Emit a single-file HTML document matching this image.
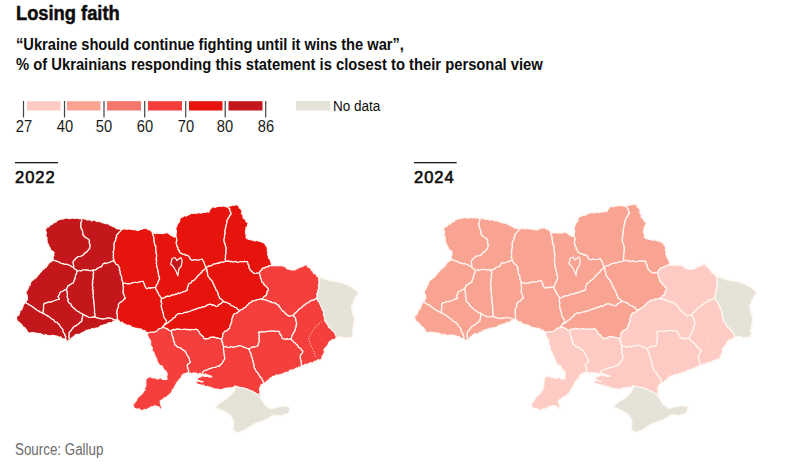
<!DOCTYPE html>
<html><head><meta charset="utf-8">
<style>
html,body{margin:0;padding:0;background:#fff;}
body{width:800px;height:468px;position:relative;overflow:hidden;font-family:"Liberation Sans",sans-serif;color:#0d0d0d;}
.t{position:absolute;white-space:nowrap;transform-origin:0 0;}
#title{left:16px;top:2px;font-size:20px;font-weight:bold;transform:scaleX(0.915);-webkit-text-stroke:0.5px #0d0d0d;}
#sub1{left:16px;top:35px;font-size:16.3px;font-weight:bold;transform:scaleX(0.901);}
#sub2{left:16px;top:55px;font-size:16.3px;font-weight:bold;transform:scaleX(0.907);}
.num{position:absolute;top:117.7px;font-size:15.8px;width:40px;text-align:center;color:#1a1a1a;transform:scaleX(0.93);transform-origin:50% 0;}
#nodata{left:333.3px;top:96.6px;font-size:15.2px;transform:scaleX(0.89);}
.yr{position:absolute;top:168px;font-size:16.5px;letter-spacing:1px;-webkit-text-stroke:0.6px #0d0d0d;}
#src{left:15px;top:441.4px;font-size:16px;color:#6b6b6b;transform:scaleX(0.835);}
svg{position:absolute;left:0;top:0;}
</style></head><body>
<div class="t" id="title">Losing faith</div>
<div class="t" id="sub1">“Ukraine should continue fighting until it wins the war”,</div>
<div class="t" id="sub2">% of Ukrainians responding this statement is closest to their personal view</div>
<svg width="800" height="468" viewBox="0 0 800 468">
<g>
<rect x="27" y="101.2" width="33.5" height="9.3" fill="#fdcbc3"/>
<rect x="67" y="101.2" width="33.5" height="9.3" fill="#f9a493"/>
<rect x="107" y="101.2" width="34" height="9.3" fill="#f5776b"/>
<rect x="148" y="101.2" width="34" height="9.3" fill="#f43f3c"/>
<rect x="189" y="101.2" width="33.5" height="9.3" fill="#e7130d"/>
<rect x="228.5" y="101.2" width="34" height="9.3" fill="#c4171c"/>
<g fill="#444">
<rect x="22.9" y="101" width="1.2" height="16.5"/>
<rect x="63.9" y="101" width="1.2" height="16.5"/>
<rect x="103.4" y="101" width="1.2" height="16.5"/>
<rect x="144.1" y="101" width="1.2" height="16.5"/>
<rect x="185.1" y="101" width="1.2" height="16.5"/>
<rect x="224.6" y="101" width="1.2" height="16.5"/>
<rect x="265.1" y="101" width="1.2" height="16.5"/>
</g>
<rect x="296" y="101" width="34.3" height="9.6" fill="#e5e3d8"/>
<rect x="15" y="162" width="43" height="1.3" fill="#1a1a1a"/>
<rect x="414" y="162" width="42.7" height="1.3" fill="#1a1a1a"/>
</g>
<g transform="translate(0)" stroke="#fff6f2" stroke-width="1.25" stroke-linejoin="round">
<path d="M53.0,259.5 53.0,258.1 53.0,256.7 53.9,255.5 53.3,254.0 54.2,252.8 53.2,251.7 52.1,250.9 50.7,250.2 50.2,248.7 49.7,247.3 48.5,246.2 48.6,244.7 47.5,243.5 47.0,242.2 47.1,240.6 46.8,239.3 47.1,237.8 45.9,236.6 45.8,235.2 46.2,233.8 46.4,232.4 45.7,231.1 45.2,229.8 45.1,228.4 46.6,228.4 47.1,226.5 48.9,226.9 49.7,225.5 50.8,224.6 52.2,224.4 53.0,223.1 54.4,222.5 56.0,222.2 56.7,220.6 58.2,220.2 59.3,219.3 60.7,219.4 62.1,218.9 63.5,219.0 64.8,218.1 66.2,218.0 67.7,218.1 69.1,218.7 70.5,218.3 71.9,218.2 73.3,218.0 74.7,218.4 76.0,218.2 77.4,218.0 78.8,218.7 80.2,218.6 81.6,218.3 81.8,219.7 81.7,221.1 81.1,222.3 80.9,223.7 80.9,225.1 80.6,226.4 81.3,227.6 81.4,229.0 82.4,230.1 82.6,231.5 82.9,232.9 82.8,234.3 83.7,235.5 84.6,236.5 85.5,237.5 86.7,238.0 87.9,238.7 88.9,239.6 89.7,240.6 89.2,241.9 89.5,243.3 89.9,244.6 90.2,246.0 89.7,247.3 89.7,248.7 88.6,249.6 87.8,250.8 86.9,251.9 85.6,252.6 84.4,253.5 83.7,254.8 82.3,255.6 80.8,256.3 79.2,256.5 77.6,256.9 76.6,258.0 75.4,258.8 74.7,260.1 73.5,260.9 73.2,262.2 73.3,263.5 73.5,264.9 73.8,266.2 73.5,267.5 72.2,267.0 71.0,266.2 69.8,265.4 68.4,265.0 67.1,264.4 65.7,264.3 64.2,264.4 63.0,263.5 61.6,263.6 60.3,263.0 59.2,262.2 58.0,261.6 56.5,261.5 55.5,260.5 54.0,260.5Z" fill="#c4171c"/>
<path d="M81.6,218.3 83.1,218.2 84.4,218.9 85.8,219.1 87.1,219.9 88.5,219.9 90.1,219.5 91.3,220.8 92.8,220.3 94.2,220.0 95.4,220.7 96.6,221.5 98.1,220.9 99.3,221.7 100.7,221.3 101.8,222.5 103.0,222.9 104.4,222.9 105.6,223.7 107.0,223.4 108.5,223.8 109.6,225.0 111.0,225.5 112.3,226.2 113.8,226.7 115.1,227.4 116.5,228.4 117.9,229.0 119.7,228.9 121.2,229.4 120.6,231.0 119.4,232.1 118.3,233.3 117.2,234.5 116.4,235.6 116.8,237.2 115.6,238.2 115.9,239.7 115.4,240.9 114.6,242.1 114.2,243.3 114.1,244.7 114.1,246.2 114.3,247.7 113.8,249.1 113.8,250.6 113.1,252.0 113.7,253.6 113.3,255.0 113.6,256.5 113.2,258.0 114.1,259.5 113.8,261.0 112.4,261.1 111.2,261.7 109.9,262.2 108.7,262.8 107.2,263.0 105.9,263.6 104.3,263.2 103.0,264.0 102.4,265.2 101.7,266.4 100.6,267.2 99.1,267.5 97.7,268.2 96.5,269.4 95.1,270.1 93.5,270.2 92.1,270.4 90.7,270.6 89.2,270.6 87.8,270.1 86.4,270.2 85.0,269.9 83.7,270.0 82.3,270.2 81.1,271.1 79.7,270.5 78.3,270.8 77.0,271.0 76.1,269.6 74.3,269.0 73.5,267.5 73.8,266.2 73.5,264.9 73.3,263.5 73.2,262.2 73.5,260.9 74.7,260.1 75.4,258.8 76.6,258.0 77.6,256.9 79.2,256.5 80.8,256.3 82.3,255.6 83.7,254.8 84.4,253.5 85.6,252.6 86.9,251.9 87.8,250.8 88.6,249.6 89.7,248.7 89.7,247.3 90.2,246.0 89.9,244.6 89.5,243.3 89.2,241.9 89.7,240.6 88.9,239.6 87.9,238.7 86.7,238.0 85.5,237.5 84.6,236.5 83.7,235.5 82.8,234.3 82.9,232.9 82.6,231.5 82.4,230.1 81.4,229.0 81.3,227.6 80.6,226.4 80.9,225.1 80.9,223.7 81.1,222.3 81.7,221.1 81.8,219.7Z" fill="#c4171c"/>
<path d="M121.2,229.4 122.6,229.5 123.8,228.4 125.3,229.2 126.6,229.0 128.0,229.3 129.3,228.4 130.7,229.4 132.5,229.5 134.2,229.5 135.9,230.0 137.5,230.5 138.9,230.4 140.0,229.1 141.5,229.4 142.8,228.6 144.1,228.2 145.6,228.4 147.1,228.3 148.0,229.8 149.6,229.5 150.7,230.5 151.9,231.5 152.5,233.0 152.6,234.4 153.3,235.6 153.7,236.9 154.2,238.2 153.8,239.7 154.4,241.0 154.2,242.4 154.8,243.7 154.7,245.0 155.9,246.2 155.9,247.5 155.9,248.9 155.7,250.3 156.4,251.5 156.0,252.8 156.5,254.1 156.7,255.4 156.5,256.7 156.5,258.1 156.0,259.4 156.8,260.7 156.5,262.0 156.4,263.4 156.7,264.8 156.8,266.1 157.1,267.5 157.5,268.8 158.0,270.1 158.0,271.5 158.4,272.8 158.6,274.1 158.5,275.5 159.4,276.7 159.5,278.0 159.5,279.4 158.5,280.7 158.2,282.3 157.6,283.8 156.5,285.0 156.4,286.4 155.4,287.5 154.1,287.5 152.8,287.9 151.5,287.7 150.2,288.4 148.9,287.8 147.6,288.5 146.3,288.5 145.4,287.2 144.8,285.8 144.3,284.3 143.7,282.9 143.2,281.4 141.8,281.5 140.5,281.6 139.2,282.0 137.9,282.5 136.5,282.5 135.1,282.3 133.7,282.5 132.4,282.9 131.1,283.4 129.7,283.9 128.4,283.8 127.0,283.9 125.6,283.2 124.3,283.5 122.9,283.4 122.8,282.0 122.1,280.7 121.5,279.5 121.8,277.9 121.4,276.6 120.9,275.3 120.2,274.0 120.0,272.7 120.1,271.2 119.2,270.0 119.7,268.4 118.9,267.2 118.4,265.9 117.6,264.8 116.1,264.3 115.3,263.3 114.7,262.0 113.8,261.0 114.1,259.5 113.2,258.0 113.6,256.5 113.3,255.0 113.7,253.6 113.1,252.0 113.8,250.6 113.8,249.1 114.3,247.7 114.1,246.2 114.1,244.7 114.2,243.3 114.6,242.1 115.4,240.9 115.9,239.7 115.6,238.2 116.8,237.2 116.4,235.6 117.2,234.5 118.3,233.3 119.4,232.1 120.6,231.0Z" fill="#e7130d"/>
<path d="M152.5,233.0 153.9,233.0 155.3,233.8 156.8,232.7 158.1,233.5 159.4,233.3 160.8,233.2 162.2,233.6 163.6,233.3 164.9,233.2 166.2,232.5 167.6,232.8 168.7,233.6 170.0,234.2 170.8,235.5 172.3,235.6 173.4,236.9 175.3,236.5 176.4,237.6 176.8,239.1 177.0,240.5 176.3,242.1 176.3,243.6 176.9,245.0 177.0,246.5 178.1,247.6 178.0,249.3 179.2,250.3 179.4,251.9 180.5,253.0 181.8,253.6 183.1,254.3 184.6,254.2 185.7,255.3 187.3,255.2 188.5,256.0 189.5,257.2 190.1,258.7 191.3,259.8 192.7,260.2 194.2,259.6 195.6,259.6 197.1,259.9 198.5,260.0 200.3,259.5 202.0,259.0 202.7,260.2 203.6,261.3 204.1,262.6 204.5,264.0 205.2,265.8 206.3,267.3 205.7,268.6 204.7,269.4 203.5,270.2 202.3,270.9 202.0,272.4 200.8,273.1 199.8,274.2 198.6,275.2 197.5,276.2 196.7,277.6 195.6,278.6 194.7,279.8 193.5,280.7 192.0,281.1 191.3,282.7 189.9,283.3 188.6,284.0 188.4,285.6 187.6,287.0 187.4,288.6 187.5,290.2 186.2,290.7 185.0,291.6 183.5,291.6 182.3,292.5 180.8,292.6 179.7,293.6 178.1,293.2 176.9,294.2 175.5,294.2 174.3,295.0 172.9,294.8 171.6,295.2 170.4,296.1 169.1,296.3 167.7,296.2 166.4,296.7 165.2,297.2 164.0,297.9 162.7,298.3 161.5,299.0 161.0,297.7 160.2,296.7 159.5,295.6 158.5,294.4 158.2,292.8 157.1,291.7 156.7,290.2 155.7,289.1 155.4,287.5 156.4,286.4 156.5,285.0 157.6,283.8 158.2,282.3 158.5,280.7 159.5,279.4 159.5,278.0 159.4,276.7 158.5,275.5 158.6,274.1 158.4,272.8 158.0,271.5 158.0,270.1 157.5,268.8 157.1,267.5 156.8,266.1 156.7,264.8 156.4,263.4 156.5,262.0 156.8,260.7 156.0,259.4 156.5,258.1 156.5,256.7 156.7,255.4 156.5,254.1 156.0,252.8 156.4,251.5 155.7,250.3 155.9,248.9 155.9,247.5 155.9,246.2 154.7,245.0 154.8,243.7 154.2,242.4 154.4,241.0 153.8,239.7 154.2,238.2 153.7,236.9 153.3,235.6 152.6,234.4Z" fill="#e7130d"/>
<path d="M176.4,237.6 175.9,236.3 176.0,234.9 176.0,233.6 176.4,232.3 176.5,231.0 176.0,229.7 175.7,228.3 176.4,227.0 176.9,225.6 177.4,224.2 178.2,223.0 179.4,221.8 179.6,220.3 179.9,218.9 180.5,217.5 181.8,217.2 183.1,216.7 184.0,215.4 185.8,216.1 187.0,215.4 188.3,215.0 189.5,214.4 190.6,213.5 192.1,213.3 193.5,213.3 195.0,212.8 196.4,213.5 197.9,212.6 199.3,212.6 200.8,213.2 202.1,212.6 203.5,212.4 204.9,212.5 206.2,211.9 207.5,211.6 209.0,212.2 209.3,210.7 210.0,209.4 211.1,208.4 212.0,207.3 213.3,206.4 214.9,207.5 216.2,207.0 217.5,206.1 219.0,206.5 220.3,206.1 221.6,206.2 222.9,206.1 224.2,205.7 225.6,206.7 226.9,206.9 228.2,206.1 228.4,207.7 229.8,208.8 229.9,210.4 230.4,211.9 231.2,213.2 230.9,214.6 229.6,215.4 229.5,216.9 228.4,217.9 227.8,219.1 227.2,220.3 226.8,221.5 226.9,222.9 226.5,224.1 226.1,225.4 226.0,226.7 225.5,227.9 225.4,229.2 225.1,230.5 225.0,231.9 225.3,233.4 224.6,234.8 224.5,236.3 224.6,237.7 224.0,239.1 224.1,240.6 224.2,242.0 224.8,243.3 225.4,244.6 225.5,246.1 226.1,247.3 226.1,248.8 226.3,250.3 225.9,251.7 226.1,253.2 225.6,254.6 225.4,256.0 225.7,257.5 225.1,258.9 226.0,261.0 224.7,261.6 223.4,262.2 222.0,262.5 220.4,262.1 219.2,263.3 217.7,263.1 216.4,263.6 215.0,264.0 213.6,264.1 212.5,265.0 211.4,265.7 210.1,266.1 208.6,266.0 207.6,267.0 206.3,267.3 205.2,265.8 204.5,264.0 204.1,262.6 203.6,261.3 202.7,260.2 202.0,259.0 200.3,259.5 198.5,260.0 197.1,259.9 195.6,259.6 194.2,259.6 192.7,260.2 191.3,259.8 190.1,258.7 189.5,257.2 188.5,256.0 187.3,255.2 185.7,255.3 184.6,254.2 183.1,254.3 181.8,253.6 180.5,253.0 179.4,251.9 179.2,250.3 178.0,249.3 178.1,247.6 177.0,246.5 176.9,245.0 176.3,243.6 176.3,242.1 177.0,240.5 176.8,239.1Z" fill="#e7130d"/>
<path d="M228.2,206.1 229.6,205.9 231.0,205.8 232.3,205.0 233.8,205.5 235.0,204.8 236.4,205.0 237.8,205.1 239.0,206.2 239.2,207.9 240.9,208.6 241.4,210.2 242.4,211.4 241.4,213.1 242.4,214.3 243.2,215.5 243.0,217.0 243.4,218.3 244.9,218.7 245.5,220.2 246.2,221.7 247.4,222.5 248.8,223.0 247.8,224.1 247.6,225.7 246.7,226.9 245.8,228.0 246.3,229.3 245.4,230.7 245.8,232.1 245.5,233.4 246.2,234.8 246.4,236.1 246.0,237.5 247.1,238.4 248.3,239.2 249.7,239.5 251.0,239.9 252.5,240.0 253.8,240.7 255.2,240.8 256.7,240.2 258.0,240.8 259.6,241.4 261.3,241.7 262.8,242.5 264.3,243.1 265.2,244.2 265.9,245.6 266.8,246.7 267.5,248.0 267.4,249.4 267.2,250.8 268.1,252.1 267.6,253.6 267.7,254.9 268.6,256.2 268.4,257.7 269.6,258.8 270.2,260.0 270.6,261.3 271.1,262.6 271.5,264.0 271.5,265.4 270.2,265.9 268.8,265.9 267.6,267.0 266.1,266.8 265.1,267.9 263.7,268.1 262.3,268.4 261.9,269.9 260.5,270.8 259.8,272.1 259.3,273.5 257.6,273.0 255.9,273.3 254.2,273.5 252.9,272.5 251.7,271.3 250.2,270.5 250.0,269.1 248.9,268.1 248.9,266.6 248.8,265.2 247.7,264.2 247.8,262.7 247.1,261.5 245.8,262.0 244.5,261.3 243.2,262.0 241.9,261.7 240.6,261.5 239.3,262.0 237.9,262.3 236.6,262.1 235.3,261.4 233.9,262.0 232.6,262.0 231.3,261.4 230.0,261.8 228.7,260.9 227.3,261.4 226.0,261.0 225.1,258.9 225.7,257.5 225.4,256.0 225.6,254.6 226.1,253.2 225.9,251.7 226.3,250.3 226.1,248.8 226.1,247.3 225.5,246.1 225.4,244.6 224.8,243.3 224.2,242.0 224.1,240.6 224.0,239.1 224.6,237.7 224.5,236.3 224.6,234.8 225.3,233.4 225.0,231.9 225.1,230.5 225.4,229.2 225.5,227.9 226.0,226.7 226.1,225.4 226.5,224.1 226.9,222.9 226.8,221.5 227.2,220.3 227.8,219.1 228.4,217.9 229.5,216.9 229.6,215.4 230.9,214.6 231.2,213.2 230.4,211.9 229.9,210.4 229.8,208.8 228.4,207.7Z" fill="#e7130d"/>
<path d="M271.5,265.4 273.2,265.6 274.8,266.0 276.5,265.4 278.0,265.9 279.6,265.4 281.1,265.6 282.6,265.4 283.6,266.5 285.4,266.3 286.1,267.8 287.2,268.8 288.7,269.0 290.2,269.7 291.7,269.9 293.3,269.7 294.8,270.0 295.8,268.9 297.5,268.9 298.3,267.6 299.9,267.5 300.9,266.4 302.6,266.6 303.9,265.4 305.4,264.9 307.0,264.6 307.4,266.2 308.5,267.2 310.1,267.8 311.0,269.0 311.5,270.5 312.9,271.1 313.2,272.8 314.4,273.7 316.1,273.9 316.5,275.6 317.4,276.7 318.9,277.1 318.7,278.4 319.0,279.8 318.9,281.1 319.3,282.4 319.4,283.7 318.4,285.1 318.8,286.4 318.9,287.7 318.6,289.0 317.9,290.3 318.1,291.8 317.3,293.0 317.1,294.4 317.4,295.9 317.0,297.2 316.5,298.5 315.1,299.0 314.1,300.2 312.4,300.1 311.1,300.6 309.8,301.4 308.9,302.7 307.4,303.0 306.0,303.5 305.3,304.8 303.9,305.3 302.9,306.2 301.9,307.2 300.9,308.2 299.7,308.8 298.6,309.7 297.9,311.0 296.7,311.8 295.8,312.9 294.5,313.6 293.9,314.9 292.5,315.5 290.6,316.0 288.7,316.1 287.6,315.4 286.6,314.5 285.4,313.9 284.8,312.6 283.7,311.8 282.6,311.1 281.5,310.1 281.1,308.6 280.0,307.6 279.0,306.5 278.6,305.0 277.2,304.7 276.1,303.7 274.9,303.2 273.7,302.5 272.1,302.8 271.1,301.7 269.5,301.8 268.4,300.9 266.9,300.6 265.6,299.9 264.1,299.7 262.6,299.6 261.3,298.9 262.5,298.3 263.4,297.3 264.2,296.2 265.5,295.7 266.4,294.8 266.8,293.3 266.9,291.6 268.1,290.3 268.4,288.7 267.2,287.9 266.4,286.6 265.3,285.7 264.0,285.0 263.6,283.3 262.3,282.6 261.5,281.4 261.4,280.0 261.0,278.7 260.2,277.5 260.3,276.1 259.6,274.8 259.3,273.5 259.8,272.1 260.5,270.8 261.9,269.9 262.3,268.4 263.7,268.1 265.1,267.9 266.1,266.8 267.6,267.0 268.8,265.9 270.2,265.9Z" fill="#f43f3c"/>
<path d="M318.9,277.1 320.4,277.3 321.7,277.7 322.9,278.7 324.4,278.7 325.7,279.4 327.0,280.0 328.4,279.7 329.5,281.0 330.9,280.4 332.2,280.7 333.5,281.1 334.7,281.8 336.1,281.3 337.3,282.2 338.7,281.8 340.0,282.0 341.2,282.6 342.5,283.2 344.0,283.0 345.0,284.2 346.4,284.4 347.8,284.7 348.6,286.3 350.0,286.5 351.6,286.8 352.8,288.0 354.0,289.1 355.5,289.6 356.4,290.9 357.6,292.0 358.3,293.5 357.5,294.7 356.6,296.0 355.5,297.0 355.6,298.8 354.2,299.7 353.5,301.0 353.4,302.6 352.9,304.1 351.7,305.4 351.6,307.0 351.9,308.3 352.2,309.6 352.6,310.8 352.5,312.2 352.6,313.5 353.6,314.6 353.7,316.0 354.2,317.2 354.5,318.5 354.3,319.9 353.9,321.2 354.1,322.6 353.9,323.9 353.8,325.3 353.0,326.6 353.5,328.0 353.1,329.4 352.7,330.7 352.5,332.1 353.3,333.6 352.8,334.9 352.1,336.3 352.6,337.7 351.3,337.1 349.9,338.2 348.6,338.1 347.3,337.6 346.0,338.1 344.7,337.8 343.4,338.0 342.1,337.1 340.8,336.9 339.5,336.7 338.1,337.8 336.8,337.2 335.9,335.9 335.3,334.4 334.8,332.9 333.6,331.8 332.6,330.7 331.5,329.8 330.9,328.4 329.4,327.9 328.5,326.7 327.9,325.3 327.2,324.0 326.3,322.8 325.4,321.6 324.6,320.3 324.5,318.8 324.6,317.2 323.7,315.8 323.4,314.3 323.7,312.7 323.2,311.4 322.8,310.1 321.8,309.0 322.0,307.5 320.8,306.4 320.8,305.0 319.6,303.9 319.4,302.2 318.1,301.2 317.2,299.9 316.5,298.5 317.0,297.2 317.4,295.9 317.1,294.4 317.3,293.0 318.1,291.8 317.9,290.3 318.6,289.0 318.9,287.7 318.8,286.4 318.4,285.1 319.4,283.7 319.3,282.4 318.9,281.1 319.0,279.8 318.7,278.4Z" fill="#e5e3d8"/>
<path d="M316.5,298.5 317.2,299.9 318.1,301.2 319.4,302.2 319.6,303.9 320.8,305.0 320.8,306.4 322.0,307.5 321.8,309.0 322.8,310.1 323.2,311.4 323.7,312.7 323.4,314.3 323.7,315.8 324.6,317.2 324.5,318.8 324.6,320.3 325.4,321.6 326.3,322.8 327.2,324.0 327.9,325.3 328.5,326.7 329.4,327.9 330.9,328.4 331.5,329.8 332.6,330.7 333.6,331.8 334.8,332.9 335.3,334.4 335.9,335.9 336.8,337.2 335.7,338.0 335.0,339.3 333.6,339.5 331.9,339.9 330.8,341.1 329.4,341.8 328.5,343.3 328.0,345.0 326.8,346.1 326.1,347.6 324.6,348.5 323.9,349.7 324.4,351.1 324.4,352.5 323.7,353.6 323.3,354.9 322.3,356.0 322.0,357.3 322.0,358.7 320.9,359.6 319.6,360.2 317.9,359.7 316.8,360.7 315.6,361.3 314.2,361.4 313.3,362.7 312.0,363.2 310.4,362.7 309.3,363.5 308.0,363.8 306.9,364.9 305.2,364.2 304.0,365.2 302.6,365.5 301.5,366.4 301.2,365.0 301.2,363.5 301.3,362.0 300.9,360.6 300.4,359.1 300.2,357.7 300.3,356.2 300.5,354.7 301.7,353.7 302.5,352.5 302.8,351.0 301.5,350.3 301.0,348.7 299.6,348.1 298.4,347.3 297.7,345.9 296.9,344.7 295.8,343.9 295.0,342.9 293.7,342.2 292.9,341.1 292.0,340.1 290.8,339.4 291.2,338.2 291.6,336.9 291.8,335.6 292.7,334.4 293.3,333.0 294.0,331.6 295.1,330.5 295.1,329.2 295.2,327.9 296.2,326.7 295.8,325.3 296.6,324.1 296.4,322.8 296.1,321.5 295.6,320.3 295.7,318.9 295.1,317.7 293.9,316.4 292.5,315.5 293.9,314.9 294.5,313.6 295.8,312.9 296.7,311.8 297.9,311.0 298.6,309.7 299.7,308.8 300.9,308.2 301.9,307.2 302.9,306.2 303.9,305.3 305.3,304.8 306.0,303.5 307.4,303.0 308.9,302.7 309.8,301.4 311.1,300.6 312.4,300.1 314.1,300.2 315.1,299.0Z" fill="#f43f3c"/>
<path d="M290.8,339.4 292.0,340.1 292.9,341.1 293.7,342.2 295.0,342.9 295.8,343.9 296.9,344.7 297.7,345.9 298.4,347.3 299.6,348.1 301.0,348.7 301.5,350.3 302.8,351.0 302.5,352.5 301.7,353.7 300.5,354.7 300.3,356.2 300.2,357.7 300.4,359.1 300.9,360.6 301.3,362.0 301.2,363.5 301.2,365.0 301.5,366.4 300.5,367.5 298.8,366.9 298.0,368.5 296.3,367.8 295.3,368.9 294.1,369.5 292.8,369.8 291.4,370.2 289.9,370.2 288.9,371.7 287.6,372.4 286.0,372.3 284.7,372.9 283.4,373.6 282.1,374.1 280.7,374.4 279.4,374.9 278.0,375.0 276.5,374.9 275.4,375.8 274.2,376.4 272.7,376.4 271.8,377.6 270.5,377.9 269.5,378.8 268.8,380.1 267.6,380.8 266.4,381.5 265.6,382.9 264.0,383.0 263.0,381.6 262.3,380.0 261.7,378.6 260.8,377.5 259.7,376.5 259.0,375.2 258.3,373.9 257.5,372.6 256.3,371.7 255.6,370.4 255.1,369.0 254.2,367.8 253.8,366.4 254.0,364.8 253.4,363.4 252.9,362.0 252.8,360.5 252.3,359.1 252.2,357.6 251.3,356.4 251.1,355.0 250.9,353.5 250.0,352.4 249.5,351.0 249.0,349.6 248.1,348.5 249.5,348.5 250.7,348.1 251.8,347.0 253.1,346.8 254.5,346.8 255.8,346.5 257.1,346.1 258.3,345.5 258.1,344.1 258.7,342.8 259.2,341.4 258.9,340.0 258.9,338.6 259.3,337.3 259.0,335.6 259.0,333.9 258.3,332.3 259.7,331.9 261.2,331.8 262.6,331.5 264.1,332.0 265.5,331.7 267.0,331.5 268.4,331.2 269.9,331.1 271.3,330.9 272.8,330.9 274.2,331.2 275.7,331.2 277.1,331.5 278.6,331.2 279.6,332.2 279.8,333.7 280.6,334.8 281.6,335.8 281.7,337.3 282.6,338.4 283.9,338.9 285.3,339.2 286.7,338.5 288.0,339.5 289.5,338.8Z" fill="#f43f3c"/>
<path d="M248.1,348.5 249.0,349.6 249.5,351.0 250.0,352.4 250.9,353.5 251.1,355.0 251.3,356.4 252.2,357.6 252.3,359.1 252.8,360.5 252.9,362.0 253.4,363.4 254.0,364.8 253.8,366.4 254.2,367.8 255.1,369.0 255.6,370.4 256.3,371.7 257.5,372.6 258.3,373.9 259.0,375.2 259.7,376.5 260.8,377.5 261.7,378.6 262.3,380.0 263.0,381.6 264.0,383.0 262.6,384.3 260.8,385.0 261.2,386.5 259.8,387.5 259.8,388.8 259.5,390.1 260.1,391.4 259.9,392.8 259.4,394.2 260.8,395.4 259.9,396.9 260.5,398.2 259.5,397.2 258.7,396.1 258.3,394.7 257.0,394.0 255.7,393.5 254.6,392.8 253.5,391.9 252.5,391.0 251.0,391.0 249.7,390.7 248.7,389.5 247.4,389.2 246.1,388.8 244.7,388.6 243.5,388.0 241.9,387.9 240.3,387.9 238.9,387.5 237.3,387.2 236.0,386.2 234.6,386.2 233.4,387.3 232.1,387.7 230.8,388.2 229.2,387.5 228.0,388.3 226.2,388.1 224.6,388.6 222.9,389.2 221.6,389.5 220.3,389.6 219.0,389.5 217.7,389.2 216.3,389.0 214.8,389.1 213.4,388.4 212.0,388.4 210.8,387.1 209.2,387.5 208.0,386.4 206.4,386.6 204.8,386.6 203.7,385.1 202.0,385.6 200.6,384.9 199.2,384.5 197.7,384.3 196.7,383.2 195.5,382.4 196.4,381.0 197.7,381.1 199.0,381.3 200.4,381.0 201.7,381.6 203.0,381.7 201.4,382.1 200.2,381.3 198.9,380.6 197.5,379.7 197.2,378.1 198.8,377.3 200.6,376.8 202.0,376.0 203.4,375.8 204.9,376.4 206.3,376.2 207.7,376.2 209.0,376.9 210.4,376.9 211.8,377.0 210.7,375.9 209.2,375.5 207.9,375.0 206.5,374.7 205.2,374.2 203.7,374.6 202.4,374.2 202.4,372.6 203.2,371.2 204.6,370.5 206.1,370.2 207.5,369.5 208.9,368.8 210.4,368.4 211.8,367.8 213.3,367.5 214.9,367.4 216.3,366.7 217.8,366.2 219.4,366.1 220.1,364.8 221.2,364.0 222.3,363.1 222.9,361.8 223.6,360.4 224.6,359.2 224.7,357.8 224.4,356.5 224.1,355.1 224.0,353.8 223.7,352.5 223.7,351.1 223.5,349.7 223.3,348.4 223.6,347.0 225.0,346.5 226.5,346.7 227.9,347.3 229.4,347.5 230.8,346.5 232.3,347.0 233.7,347.0 235.3,346.6 236.9,346.5 238.4,345.6 240.0,345.5 241.4,346.0 242.8,346.4 243.9,347.3 245.5,347.3 246.6,348.4Z" fill="#f43f3c"/>
<path d="M223.6,347.0 223.3,348.4 223.5,349.7 223.7,351.1 223.7,352.5 224.0,353.8 224.1,355.1 224.4,356.5 224.7,357.8 224.6,359.2 223.6,360.4 222.9,361.8 222.3,363.1 221.2,364.0 220.1,364.8 219.4,366.1 217.8,366.2 216.3,366.7 214.9,367.4 213.3,367.5 211.8,367.8 210.4,368.4 208.9,368.8 207.5,369.5 206.1,370.2 204.6,370.5 203.2,371.2 202.4,372.6 202.4,374.2 201.1,374.4 199.9,373.3 198.5,374.4 197.2,373.8 196.1,373.1 194.7,373.0 193.2,372.9 191.7,373.9 190.2,372.8 188.7,373.4 188.1,372.2 188.7,370.8 188.2,369.5 187.5,368.2 187.5,366.7 187.0,365.3 188.0,364.0 189.5,363.2 190.4,361.8 189.4,360.6 189.3,359.0 188.7,357.6 187.9,356.3 186.9,355.2 186.4,353.8 185.7,352.4 185.0,351.1 183.8,350.6 182.7,349.8 181.6,349.1 180.7,348.0 179.3,347.7 178.0,347.4 176.9,346.6 176.1,345.4 174.8,345.0 174.4,343.7 174.6,342.2 173.3,341.1 173.5,339.6 173.2,338.2 172.8,336.9 172.0,335.5 171.7,333.9 171.6,332.2 170.8,330.8 172.2,329.9 173.7,329.3 175.5,329.6 176.9,328.7 178.3,329.2 179.8,329.1 181.2,329.5 182.7,329.4 184.1,329.2 185.6,329.2 187.0,329.7 188.5,329.3 189.9,330.0 191.4,329.4 192.8,329.5 194.3,329.6 195.7,329.2 197.2,329.7 198.4,330.8 199.4,332.1 200.0,333.7 201.2,334.8 202.3,335.7 203.4,336.7 203.9,338.2 205.3,338.9 206.7,338.6 208.1,338.6 209.4,338.0 210.6,337.1 212.0,337.1 213.4,336.9 214.8,337.2 216.0,337.8 217.5,337.8 218.8,338.4 220.1,338.6 221.5,338.9 222.1,340.2 221.8,341.7 222.9,342.8 222.6,344.4 223.6,345.6Z" fill="#f43f3c"/>
<path d="M170.8,330.8 171.6,332.2 171.7,333.9 172.0,335.5 172.8,336.9 173.2,338.2 173.5,339.6 173.3,341.1 174.6,342.2 174.4,343.7 174.8,345.0 176.1,345.4 176.9,346.6 178.0,347.4 179.3,347.7 180.7,348.0 181.6,349.1 182.7,349.8 183.8,350.6 185.0,351.1 185.7,352.4 186.4,353.8 186.9,355.2 187.9,356.3 188.7,357.6 189.3,359.0 189.4,360.6 190.4,361.8 189.5,363.2 188.0,364.0 187.0,365.3 187.5,366.7 187.5,368.2 188.2,369.5 188.7,370.8 188.1,372.2 188.7,373.4 187.0,373.1 185.3,373.7 183.7,374.1 182.5,375.1 181.5,376.2 181.3,378.0 179.9,378.8 179.0,380.0 178.3,381.2 177.2,382.1 176.6,383.3 175.9,384.4 175.5,385.8 174.5,386.7 174.3,388.2 173.1,389.2 172.2,390.4 171.8,392.0 171.1,393.4 169.6,394.1 168.8,395.5 167.4,396.1 166.5,397.4 164.6,397.5 163.8,398.8 162.6,399.5 161.3,400.2 160.2,401.1 160.3,402.6 160.5,404.1 161.1,405.5 161.4,407.0 161.7,408.6 160.2,409.6 160.2,411.1 160.2,409.6 159.5,408.4 159.1,407.0 157.5,406.5 156.0,406.0 154.4,405.8 153.2,407.0 151.3,406.7 150.1,407.9 148.5,408.2 147.3,409.3 145.8,409.5 144.1,409.3 143.0,410.5 141.4,410.5 140.1,409.7 138.8,408.9 137.2,409.1 135.7,408.8 134.4,408.2 133.8,407.0 133.4,405.7 132.6,404.6 133.9,403.7 134.8,402.4 135.8,401.3 136.7,400.0 137.1,398.4 138.1,397.3 139.1,396.2 140.3,395.2 141.5,394.5 142.0,393.1 143.2,392.5 143.5,390.9 145.0,390.5 144.5,389.0 144.9,387.7 145.6,386.3 145.8,384.9 145.6,383.5 146.0,382.0 145.6,380.3 146.1,378.8 147.3,378.0 148.5,377.2 149.7,376.4 152.0,377.6 153.6,378.0 155.3,377.8 156.7,378.8 158.6,378.8 160.2,377.6 161.6,377.8 162.3,379.4 163.8,379.4 165.7,379.7 167.3,378.8 166.3,377.5 166.8,376.0 167.1,374.5 167.0,373.0 166.1,371.7 165.2,370.6 164.1,369.6 163.1,368.4 162.6,367.0 161.8,365.7 160.0,365.8 159.1,364.7 158.6,363.5 157.4,362.6 157.3,361.2 156.7,360.0 156.7,358.4 155.0,357.7 155.3,356.0 154.3,354.9 154.2,353.4 153.4,352.2 152.5,351.1 151.8,349.7 152.5,348.1 151.6,346.7 150.7,345.4 150.3,344.0 150.8,342.4 150.5,340.9 149.8,339.7 149.1,338.6 148.3,337.5 147.9,336.2 147.3,335.0 147.4,333.5 146.4,332.5 147.8,332.7 149.1,332.7 150.4,332.0 151.8,332.0 153.2,332.0 154.5,331.8 155.9,331.4 157.1,330.7 158.0,329.6 159.1,328.7 160.6,328.5 161.7,327.7 162.8,326.8 164.0,327.6 165.5,328.1 166.9,328.6 168.2,329.3 169.3,330.5Z" fill="#f43f3c"/>
<path d="M122.9,283.4 124.3,283.5 125.6,283.2 127.0,283.9 128.4,283.8 129.7,283.9 131.1,283.4 132.4,282.9 133.7,282.5 135.1,282.3 136.5,282.5 137.9,282.5 139.2,282.0 140.5,281.6 141.8,281.5 143.2,281.4 143.7,282.9 144.3,284.3 144.8,285.8 145.4,287.2 146.3,288.5 147.6,288.5 148.9,287.8 150.2,288.4 151.5,287.7 152.8,287.9 154.1,287.5 155.4,287.5 155.7,289.1 156.7,290.2 157.1,291.7 158.2,292.8 158.5,294.4 159.5,295.6 160.2,296.7 161.0,297.7 161.5,299.0 161.2,300.5 161.1,301.9 161.9,303.4 161.4,304.9 161.4,306.3 161.5,307.8 162.1,309.1 162.3,310.5 162.9,311.8 163.2,313.1 163.5,314.5 163.6,315.9 164.1,317.2 164.7,318.4 165.7,319.4 166.4,320.6 166.6,322.0 165.8,323.3 164.6,324.3 164.0,325.8 162.8,326.8 161.7,327.7 160.6,328.5 159.1,328.7 158.0,329.6 157.1,330.7 155.9,331.4 154.5,331.8 153.2,332.0 151.8,332.0 150.4,332.0 149.1,332.7 147.8,332.7 146.4,332.5 145.3,331.1 144.1,330.4 142.6,330.8 141.6,329.4 140.4,328.9 139.0,328.9 137.7,328.7 136.4,328.3 135.1,328.1 133.8,327.7 132.3,327.8 131.4,326.4 130.1,325.9 128.9,325.2 127.3,325.6 126.1,324.8 125.0,324.0 123.4,323.9 122.6,322.2 120.7,322.5 119.4,321.7 118.6,320.0 116.9,320.0 117.2,318.6 117.3,317.3 117.1,315.9 117.4,314.6 116.5,313.2 116.9,311.9 116.9,310.5 117.3,309.1 117.9,307.8 118.6,306.5 118.1,305.0 118.9,303.7 119.8,302.7 120.7,301.8 122.1,301.4 123.0,300.4 123.7,299.2 125.0,298.7 124.7,297.2 124.3,295.8 123.7,294.4 123.0,293.0 122.9,291.5 123.2,290.1 123.2,288.8 123.2,287.4 123.2,286.1 122.7,284.8Z" fill="#e7130d"/>
<path d="M161.5,299.0 162.7,298.3 164.0,297.9 165.2,297.2 166.4,296.7 167.7,296.2 169.1,296.3 170.4,296.1 171.6,295.2 172.9,294.8 174.3,295.0 175.5,294.2 176.9,294.2 178.1,293.2 179.7,293.6 180.8,292.6 182.3,292.5 183.5,291.6 185.0,291.6 186.2,290.7 187.5,290.2 187.4,288.6 187.6,287.0 188.4,285.6 188.6,284.0 189.9,283.3 191.3,282.7 192.0,281.1 193.5,280.7 194.7,279.8 195.6,278.6 196.7,277.6 197.5,276.2 198.6,275.2 199.8,274.2 200.8,273.1 202.0,272.4 202.3,270.9 203.5,270.2 204.7,269.4 205.7,268.6 206.3,267.3 206.3,268.7 207.3,269.8 206.8,271.3 207.6,272.5 207.5,273.9 207.9,275.2 208.2,276.6 209.3,277.6 209.9,278.8 211.0,279.7 212.0,280.7 212.7,281.9 213.0,283.3 214.0,284.4 214.2,285.9 215.0,287.1 215.6,288.4 215.9,289.8 217.2,290.8 217.5,292.2 218.3,293.6 218.4,295.3 219.5,296.6 219.5,298.3 221.2,298.9 222.3,300.2 223.6,301.3 222.7,302.3 221.6,303.0 220.6,303.9 219.3,304.5 218.3,305.3 217.5,306.4 216.0,306.5 214.8,305.8 213.5,304.9 212.0,305.3 210.8,304.3 209.3,304.4 207.8,304.8 206.6,305.6 205.3,306.4 204.0,306.8 202.5,306.6 201.3,307.8 199.8,307.5 198.6,308.3 197.2,308.4 196.1,309.3 194.6,309.4 193.4,310.1 192.0,310.3 190.8,311.0 189.6,311.6 188.1,311.5 187.0,312.5 185.6,312.4 184.3,312.7 183.0,313.3 181.6,313.5 180.3,313.5 178.9,313.5 177.6,314.1 176.6,315.0 175.7,316.0 175.1,317.4 173.6,317.7 172.8,318.8 171.9,319.8 170.8,320.6 169.5,321.3 168.6,322.4 167.4,323.3 166.1,323.9 165.0,324.9 163.7,325.6 162.8,326.8 164.0,325.8 164.6,324.3 165.8,323.3 166.6,322.0 166.4,320.6 165.7,319.4 164.7,318.4 164.1,317.2 163.6,315.9 163.5,314.5 163.2,313.1 162.9,311.8 162.3,310.5 162.1,309.1 161.5,307.8 161.4,306.3 161.4,304.9 161.9,303.4 161.1,301.9 161.2,300.5Z" fill="#e7130d"/>
<path d="M206.3,267.3 207.6,267.0 208.6,266.0 210.1,266.1 211.4,265.7 212.5,265.0 213.6,264.1 215.0,264.0 216.4,263.6 217.7,263.1 219.2,263.3 220.4,262.1 222.0,262.5 223.4,262.2 224.7,261.6 226.0,261.0 227.3,261.4 228.7,260.9 230.0,261.8 231.3,261.4 232.6,262.0 233.9,262.0 235.3,261.4 236.6,262.1 237.9,262.3 239.3,262.0 240.6,261.5 241.9,261.7 243.2,262.0 244.5,261.3 245.8,262.0 247.1,261.5 247.8,262.7 247.7,264.2 248.8,265.2 248.9,266.6 248.9,268.1 250.0,269.1 250.2,270.5 251.7,271.3 252.9,272.5 254.2,273.5 255.9,273.3 257.6,273.0 259.3,273.5 259.6,274.8 260.3,276.1 260.2,277.5 261.0,278.7 261.4,280.0 261.5,281.4 262.3,282.6 263.6,283.3 264.0,285.0 265.3,285.7 266.4,286.6 267.2,287.9 268.4,288.7 268.1,290.3 266.9,291.6 266.8,293.3 266.4,294.8 265.5,295.7 264.2,296.2 263.4,297.3 262.5,298.3 261.3,298.9 260.0,299.1 258.7,299.5 257.3,299.5 256.1,300.2 254.9,300.7 253.5,300.8 252.2,300.9 251.4,302.1 250.1,302.8 248.8,303.6 247.9,304.8 246.8,305.7 246.1,307.0 244.7,307.5 243.6,308.4 242.4,309.3 241.0,309.8 239.8,310.5 238.4,309.9 237.2,309.1 236.4,307.6 234.8,307.4 233.7,306.4 232.3,306.0 231.0,305.5 230.1,304.1 228.7,303.7 227.5,303.0 226.3,302.3 224.7,302.2 223.6,301.3 222.3,300.2 221.2,298.9 219.5,298.3 219.5,296.6 218.4,295.3 218.3,293.6 217.5,292.2 217.2,290.8 215.9,289.8 215.6,288.4 215.0,287.1 214.2,285.9 214.0,284.4 213.0,283.3 212.7,281.9 212.0,280.7 211.0,279.7 209.9,278.8 209.3,277.6 208.2,276.6 207.9,275.2 207.5,273.9 207.6,272.5 206.8,271.3 207.3,269.8 206.3,268.7Z" fill="#e7130d"/>
<path d="M162.8,326.8 163.7,325.6 165.0,324.9 166.1,323.9 167.4,323.3 168.6,322.4 169.5,321.3 170.8,320.6 171.9,319.8 172.8,318.8 173.6,317.7 175.1,317.4 175.7,316.0 176.6,315.0 177.6,314.1 178.9,313.5 180.3,313.5 181.6,313.5 183.0,313.3 184.3,312.7 185.6,312.4 187.0,312.5 188.1,311.5 189.6,311.6 190.8,311.0 192.0,310.3 193.4,310.1 194.6,309.4 196.1,309.3 197.2,308.4 198.6,308.3 199.8,307.5 201.3,307.8 202.5,306.6 204.0,306.8 205.3,306.4 206.6,305.6 207.8,304.8 209.3,304.4 210.8,304.3 212.0,305.3 213.5,304.9 214.8,305.8 216.0,306.5 217.5,306.4 218.3,305.3 219.3,304.5 220.6,303.9 221.6,303.0 222.7,302.3 223.6,301.3 224.7,302.2 226.3,302.3 227.5,303.0 228.7,303.7 230.1,304.1 231.0,305.5 232.3,306.0 233.7,306.4 234.8,307.4 236.4,307.6 237.2,309.1 238.4,309.9 239.8,310.5 238.8,311.6 237.6,312.5 236.4,313.3 234.8,313.5 233.7,314.5 233.1,316.0 232.5,317.5 232.0,319.0 231.7,320.6 231.8,322.1 230.9,323.3 230.8,324.7 230.0,325.9 229.6,327.3 229.6,328.7 228.2,329.2 227.4,330.7 225.8,330.9 224.6,331.6 223.6,332.8 222.7,334.2 222.9,336.0 222.3,337.5 221.5,338.9 220.1,338.6 218.8,338.4 217.5,337.8 216.0,337.8 214.8,337.2 213.4,336.9 212.0,337.1 210.6,337.1 209.4,338.0 208.1,338.6 206.7,338.6 205.3,338.9 203.9,338.2 203.4,336.7 202.3,335.7 201.2,334.8 200.0,333.7 199.4,332.1 198.4,330.8 197.2,329.7 195.7,329.2 194.3,329.6 192.8,329.5 191.4,329.4 189.9,330.0 188.5,329.3 187.0,329.7 185.6,329.2 184.1,329.2 182.7,329.4 181.2,329.5 179.8,329.1 178.3,329.2 176.9,328.7 175.5,329.6 173.7,329.3 172.2,329.9 170.8,330.8 169.3,330.5 168.2,329.3 166.9,328.6 165.5,328.1 164.0,327.6Z" fill="#e7130d"/>
<path d="M239.8,310.5 241.0,309.8 242.4,309.3 243.6,308.4 244.7,307.5 246.1,307.0 246.8,305.7 247.9,304.8 248.8,303.6 250.1,302.8 251.4,302.1 252.2,300.9 253.5,300.8 254.9,300.7 256.1,300.2 257.3,299.5 258.7,299.5 260.0,299.1 261.3,298.9 262.6,299.6 264.1,299.7 265.6,299.9 266.9,300.6 268.4,300.9 269.5,301.8 271.1,301.7 272.1,302.8 273.7,302.5 274.9,303.2 276.1,303.7 277.2,304.7 278.6,305.0 279.0,306.5 280.0,307.6 281.1,308.6 281.5,310.1 282.6,311.1 283.7,311.8 284.8,312.6 285.4,313.9 286.6,314.5 287.6,315.4 288.7,316.1 290.6,316.0 292.5,315.5 293.9,316.4 295.1,317.7 295.7,318.9 295.6,320.3 296.1,321.5 296.4,322.8 296.6,324.1 295.8,325.3 296.2,326.7 295.2,327.9 295.1,329.2 295.1,330.5 294.0,331.6 293.3,333.0 292.7,334.4 291.8,335.6 291.6,336.9 291.2,338.2 290.8,339.4 289.5,338.8 288.0,339.5 286.7,338.5 285.3,339.2 283.9,338.9 282.6,338.4 281.7,337.3 281.6,335.8 280.6,334.8 279.8,333.7 279.6,332.2 278.6,331.2 277.1,331.5 275.7,331.2 274.2,331.2 272.8,330.9 271.3,330.9 269.9,331.1 268.4,331.2 267.0,331.5 265.5,331.7 264.1,332.0 262.6,331.5 261.2,331.8 259.7,331.9 258.3,332.3 259.0,333.9 259.0,335.6 259.3,337.3 258.9,338.6 258.9,340.0 259.2,341.4 258.7,342.8 258.1,344.1 258.3,345.5 257.1,346.1 255.8,346.5 254.5,346.8 253.1,346.8 251.8,347.0 250.7,348.1 249.5,348.5 248.1,348.5 246.6,348.4 245.5,347.3 243.9,347.3 242.8,346.4 241.4,346.0 240.0,345.5 238.4,345.6 236.9,346.5 235.3,346.6 233.7,347.0 232.3,347.0 230.8,346.5 229.4,347.5 227.9,347.3 226.5,346.7 225.0,346.5 223.6,347.0 223.6,345.6 222.6,344.4 222.9,342.8 221.8,341.7 222.1,340.2 221.5,338.9 222.3,337.5 222.9,336.0 222.7,334.2 223.6,332.8 224.6,331.6 225.8,330.9 227.4,330.7 228.2,329.2 229.6,328.7 229.6,327.3 230.0,325.9 230.8,324.7 230.9,323.3 231.8,322.1 231.7,320.6 232.0,319.0 232.5,317.5 233.1,316.0 233.7,314.5 234.8,313.5 236.4,313.3 237.6,312.5 238.8,311.6Z" fill="#f43f3c"/>
<path d="M93.5,270.2 95.1,270.1 96.5,269.4 97.7,268.2 99.1,267.5 100.6,267.2 101.7,266.4 102.4,265.2 103.0,264.0 104.3,263.2 105.9,263.6 107.2,263.0 108.7,262.8 109.9,262.2 111.2,261.7 112.4,261.1 113.8,261.0 114.7,262.0 115.3,263.3 116.1,264.3 117.6,264.8 118.4,265.9 118.9,267.2 119.7,268.4 119.2,270.0 120.1,271.2 120.0,272.7 120.2,274.0 120.9,275.3 121.4,276.6 121.8,277.9 121.5,279.5 122.1,280.7 122.8,282.0 122.9,283.4 122.7,284.8 123.2,286.1 123.2,287.4 123.2,288.8 123.2,290.1 122.9,291.5 123.0,293.0 123.7,294.4 124.3,295.8 124.7,297.2 125.0,298.7 123.7,299.2 123.0,300.4 122.1,301.4 120.7,301.8 119.8,302.7 118.9,303.7 118.1,305.0 118.6,306.5 117.9,307.8 117.3,309.1 116.9,310.5 116.9,311.9 116.5,313.2 117.4,314.6 117.1,315.9 117.3,317.3 117.2,318.6 116.9,320.0 115.5,319.9 114.1,319.5 112.8,319.1 111.5,318.5 110.1,318.2 108.7,318.0 107.3,318.0 106.0,318.6 104.7,318.7 103.4,319.1 102.0,318.8 100.6,319.0 99.3,318.3 97.8,318.1 96.4,317.6 95.0,317.2 94.6,315.8 95.0,314.3 94.4,312.9 94.5,311.4 94.5,310.0 94.4,308.5 94.3,307.1 94.4,305.6 93.7,304.1 93.8,302.6 93.7,301.2 93.5,299.7 93.5,298.3 92.9,296.9 93.4,295.4 93.0,294.0 92.8,292.6 93.4,291.1 92.4,289.8 92.7,288.3 92.6,286.9 92.5,285.5 92.1,284.1 92.9,282.7 92.3,281.3 92.7,279.9 92.8,278.5 93.5,277.2 93.0,275.8 93.1,274.4 93.7,273.0 92.9,271.6Z" fill="#c4171c"/>
<path d="M77.0,271.0 78.3,270.8 79.7,270.5 81.1,271.1 82.3,270.2 83.7,270.0 85.0,269.9 86.4,270.2 87.8,270.1 89.2,270.6 90.7,270.6 92.1,270.4 93.5,270.2 92.9,271.6 93.7,273.0 93.1,274.4 93.0,275.8 93.5,277.2 92.8,278.5 92.7,279.9 92.3,281.3 92.9,282.7 92.1,284.1 92.5,285.5 92.6,286.9 92.7,288.3 92.4,289.8 93.4,291.1 92.8,292.6 93.0,294.0 93.4,295.4 92.9,296.9 93.5,298.3 93.5,299.7 93.7,301.2 93.8,302.6 93.7,304.1 94.4,305.6 94.3,307.1 94.4,308.5 94.5,310.0 94.5,311.4 94.4,312.9 95.0,314.3 94.6,315.8 95.0,317.2 93.3,317.2 91.7,317.3 90.0,317.5 88.5,317.3 87.2,316.5 85.8,315.9 84.5,315.2 83.1,314.7 81.9,313.5 80.1,313.1 78.9,311.9 77.6,311.3 76.4,310.6 75.4,309.6 74.3,308.8 73.3,307.8 72.3,306.7 71.2,305.7 70.8,304.1 69.4,303.3 68.4,302.2 67.8,300.8 68.0,299.4 67.6,298.0 67.0,296.7 67.4,295.2 67.3,293.8 67.1,292.4 66.8,291.1 66.4,289.7 66.6,288.3 67.6,287.1 67.8,285.6 69.3,285.1 70.6,284.3 71.8,283.3 73.3,282.8 73.7,281.5 74.1,280.2 74.9,279.0 74.9,277.6 75.4,276.4 75.5,275.0 76.4,273.8 76.6,272.4Z" fill="#c4171c"/>
<path d="M25.4,302.2 26.4,300.9 27.3,299.7 27.5,298.0 27.2,296.6 27.1,295.2 25.9,294.0 26.2,292.5 26.1,291.1 27.4,290.0 27.9,288.6 28.7,287.2 28.9,285.6 30.3,284.9 30.2,283.1 30.9,281.9 31.8,280.8 33.0,280.0 34.0,279.1 35.1,278.3 36.3,277.6 37.0,276.4 37.8,275.3 38.9,274.5 39.5,273.2 40.5,272.3 41.6,271.3 42.0,269.8 43.8,269.5 44.2,268.0 45.9,267.7 46.5,266.2 47.6,265.4 48.1,264.1 48.9,262.9 49.9,262.1 51.3,261.6 52.3,260.7 53.0,259.5 54.0,260.5 55.5,260.5 56.5,261.5 58.0,261.6 59.2,262.2 60.3,263.0 61.6,263.6 63.0,263.5 64.2,264.4 65.7,264.3 67.1,264.4 68.4,265.0 69.8,265.4 71.0,266.2 72.2,267.0 73.5,267.5 74.3,269.0 76.1,269.6 77.0,271.0 76.6,272.4 76.4,273.8 75.5,275.0 75.4,276.4 74.9,277.6 74.9,279.0 74.1,280.2 73.7,281.5 73.3,282.8 71.8,283.3 70.6,284.3 69.3,285.1 67.8,285.6 67.6,287.1 66.6,288.3 66.4,289.7 64.8,289.8 63.6,290.7 62.3,291.5 60.8,291.8 59.8,292.9 59.5,294.3 59.0,295.6 58.0,296.7 59.0,297.9 59.4,299.4 57.9,299.5 56.5,299.9 55.2,300.5 53.9,301.0 52.5,301.3 51.2,302.1 49.7,302.2 48.2,302.1 47.0,303.0 45.5,303.1 44.2,303.6 43.7,304.9 43.5,306.3 43.6,307.8 43.6,309.2 43.2,310.5 43.4,312.0 42.8,313.3 41.5,312.4 39.9,312.1 38.8,310.8 37.2,310.6 36.3,309.5 35.0,308.9 34.0,307.9 32.9,307.1 31.7,306.4 30.6,305.4 29.0,305.0 28.0,303.8 26.5,303.3Z" fill="#c4171c"/>
<path d="M25.4,302.2 26.5,303.3 28.0,303.8 29.0,305.0 30.6,305.4 31.7,306.4 32.9,307.1 34.0,307.9 35.0,308.9 36.3,309.5 37.2,310.6 38.8,310.8 39.9,312.1 41.5,312.4 42.8,313.3 44.3,313.8 45.6,314.5 46.9,315.4 48.3,316.1 49.5,316.9 50.5,317.9 51.6,318.7 52.9,319.3 53.9,320.3 54.7,321.5 55.9,322.2 57.5,322.4 58.1,323.8 59.4,324.4 60.0,326.0 61.0,327.4 62.2,328.6 63.1,329.9 63.0,331.5 63.8,332.8 64.9,334.0 65.0,335.6 65.9,336.8 65.4,338.5 66.1,339.8 66.7,341.1 65.9,339.7 64.8,338.8 62.8,339.0 61.7,338.2 60.8,336.9 59.3,337.4 58.0,336.4 56.7,336.2 55.3,335.8 53.9,335.6 52.5,335.4 51.1,335.6 49.7,336.0 48.3,335.6 46.9,335.3 45.6,334.6 44.1,335.7 42.8,334.9 41.5,334.2 40.2,333.6 38.7,333.6 37.2,333.3 35.8,333.2 34.4,332.8 33.0,332.7 31.6,332.7 30.3,333.2 28.9,332.8 27.6,332.3 27.0,331.0 26.4,329.7 25.4,328.8 24.7,327.7 23.3,327.2 22.4,325.9 21.5,324.6 20.3,323.6 19.3,322.4 17.8,321.7 17.2,320.3 16.4,318.9 16.4,317.2 17.3,315.8 18.9,314.9 19.2,313.3 19.8,312.1 19.8,310.7 21.4,309.9 22.0,308.8 22.6,307.6 22.9,306.3 23.3,305.0 24.3,303.5Z" fill="#c4171c"/>
<path d="M66.4,289.7 66.8,291.1 67.1,292.4 67.3,293.8 67.4,295.2 67.0,296.7 67.6,298.0 68.0,299.4 67.8,300.8 68.4,302.2 69.4,303.3 70.8,304.1 71.2,305.7 72.3,306.7 73.3,307.8 74.3,308.8 75.4,309.6 76.4,310.6 77.6,311.3 78.9,311.9 80.1,313.1 81.9,313.5 83.1,314.7 82.6,316.1 82.5,317.5 82.0,318.9 82.0,320.3 81.7,321.7 80.3,322.2 79.3,323.2 78.2,324.3 77.0,325.1 75.9,325.9 74.5,326.4 73.3,327.2 72.8,328.6 71.7,329.5 71.1,330.8 70.0,331.7 69.2,332.8 69.2,334.2 69.2,335.6 68.8,337.0 69.7,338.3 68.9,339.7 69.2,341.1 66.7,341.1 66.1,339.8 65.4,338.5 65.9,336.8 65.0,335.6 64.9,334.0 63.8,332.8 63.0,331.5 63.1,329.9 62.2,328.6 61.0,327.4 60.0,326.0 59.4,324.4 58.1,323.8 57.5,322.4 55.9,322.2 54.7,321.5 53.9,320.3 52.9,319.3 51.6,318.7 50.5,317.9 49.5,316.9 48.3,316.1 46.9,315.4 45.6,314.5 44.3,313.8 42.8,313.3 43.4,312.0 43.2,310.5 43.6,309.2 43.6,307.8 43.5,306.3 43.7,304.9 44.2,303.6 45.5,303.1 47.0,303.0 48.2,302.1 49.7,302.2 51.2,302.1 52.5,301.3 53.9,301.0 55.2,300.5 56.5,299.9 57.9,299.5 59.4,299.4 59.0,297.9 58.0,296.7 59.0,295.6 59.5,294.3 59.8,292.9 60.8,291.8 62.3,291.5 63.6,290.7 64.8,289.8Z" fill="#c4171c"/>
<path d="M83.1,314.7 84.5,315.2 85.8,315.9 87.2,316.5 88.5,317.3 90.0,317.5 91.7,317.3 93.3,317.2 95.0,317.2 96.4,317.6 97.8,318.1 99.3,318.3 100.6,319.0 102.0,318.8 103.4,319.1 104.7,318.7 106.0,318.6 107.3,318.0 108.7,318.0 110.1,318.2 111.5,318.5 112.8,319.1 114.1,319.5 115.5,319.9 116.9,320.0 115.5,320.2 114.4,321.2 112.9,321.2 112.1,322.7 110.7,322.8 109.1,322.7 107.9,323.3 106.7,324.0 105.4,324.5 103.9,324.5 103.1,326.1 101.3,325.4 100.2,326.3 99.1,327.3 97.9,327.9 96.5,328.1 95.0,328.3 93.7,329.0 92.0,328.3 90.8,329.6 89.3,329.6 88.0,330.5 86.4,330.1 85.5,331.3 84.1,331.6 83.1,332.5 81.7,332.8 80.5,333.9 79.2,334.6 77.4,334.3 75.9,334.6 74.7,335.6 73.6,336.7 72.3,337.6 71.1,338.6 70.8,340.5 69.2,341.1 68.9,339.7 69.7,338.3 68.8,337.0 69.2,335.6 69.2,334.2 69.2,332.8 70.0,331.7 71.1,330.8 71.7,329.5 72.8,328.6 73.3,327.2 74.5,326.4 75.9,325.9 77.0,325.1 78.2,324.3 79.3,323.2 80.3,322.2 81.7,321.7 82.0,320.3 82.0,318.9 82.5,317.5 82.6,316.1Z" fill="#c4171c"/>
<path d="M236.0,386.5 243.5,388.0 251.0,391.0 257.0,394.0 260.8,398.5 264.5,404.5 270.5,409.0 276.5,407.5 284.0,406.0 290.0,407.5 288.5,413.5 281.0,415.8 273.5,415.0 269.0,418.0 263.0,421.0 254.0,424.0 245.0,430.0 237.5,433.0 233.0,430.0 233.8,421.0 230.0,415.0 222.5,410.5 215.0,407.5 219.5,403.0 227.0,398.5 233.0,392.5Z" fill="#e5e3d8"/>
<path d="M170.7,264.2 172.1,258.5 175.0,257.5 176.9,260.4 180.8,257.5 182.2,260.4 181.3,266.2 178.8,269.0 177.9,275.8 176.0,271.0 173.1,266.2Z" fill="#c4171c"/>
<path d="M322,321.5 L315.6,326.7 L311.2,333 L308.6,338.2 L310.5,344.6 L313.7,351 L315.6,358" fill="none" stroke="#ffe8e4" stroke-width="1" stroke-dasharray="1.2,1.5" opacity="0.85"/>
</g>
<g transform="translate(398.2,-0.5)" stroke="#fff6f2" stroke-width="1.25" stroke-linejoin="round">
<path d="M53.0,259.5 53.0,258.1 53.0,256.7 53.9,255.5 53.3,254.0 54.2,252.8 53.2,251.7 52.1,250.9 50.7,250.2 50.2,248.7 49.7,247.3 48.5,246.2 48.6,244.7 47.5,243.5 47.0,242.2 47.1,240.6 46.8,239.3 47.1,237.8 45.9,236.6 45.8,235.2 46.2,233.8 46.4,232.4 45.7,231.1 45.2,229.8 45.1,228.4 46.6,228.4 47.1,226.5 48.9,226.9 49.7,225.5 50.8,224.6 52.2,224.4 53.0,223.1 54.4,222.5 56.0,222.2 56.7,220.6 58.2,220.2 59.3,219.3 60.7,219.4 62.1,218.9 63.5,219.0 64.8,218.1 66.2,218.0 67.7,218.1 69.1,218.7 70.5,218.3 71.9,218.2 73.3,218.0 74.7,218.4 76.0,218.2 77.4,218.0 78.8,218.7 80.2,218.6 81.6,218.3 81.8,219.7 81.7,221.1 81.1,222.3 80.9,223.7 80.9,225.1 80.6,226.4 81.3,227.6 81.4,229.0 82.4,230.1 82.6,231.5 82.9,232.9 82.8,234.3 83.7,235.5 84.6,236.5 85.5,237.5 86.7,238.0 87.9,238.7 88.9,239.6 89.7,240.6 89.2,241.9 89.5,243.3 89.9,244.6 90.2,246.0 89.7,247.3 89.7,248.7 88.6,249.6 87.8,250.8 86.9,251.9 85.6,252.6 84.4,253.5 83.7,254.8 82.3,255.6 80.8,256.3 79.2,256.5 77.6,256.9 76.6,258.0 75.4,258.8 74.7,260.1 73.5,260.9 73.2,262.2 73.3,263.5 73.5,264.9 73.8,266.2 73.5,267.5 72.2,267.0 71.0,266.2 69.8,265.4 68.4,265.0 67.1,264.4 65.7,264.3 64.2,264.4 63.0,263.5 61.6,263.6 60.3,263.0 59.2,262.2 58.0,261.6 56.5,261.5 55.5,260.5 54.0,260.5Z" fill="#f9a493"/>
<path d="M81.6,218.3 83.1,218.2 84.4,218.9 85.8,219.1 87.1,219.9 88.5,219.9 90.1,219.5 91.3,220.8 92.8,220.3 94.2,220.0 95.4,220.7 96.6,221.5 98.1,220.9 99.3,221.7 100.7,221.3 101.8,222.5 103.0,222.9 104.4,222.9 105.6,223.7 107.0,223.4 108.5,223.8 109.6,225.0 111.0,225.5 112.3,226.2 113.8,226.7 115.1,227.4 116.5,228.4 117.9,229.0 119.7,228.9 121.2,229.4 120.6,231.0 119.4,232.1 118.3,233.3 117.2,234.5 116.4,235.6 116.8,237.2 115.6,238.2 115.9,239.7 115.4,240.9 114.6,242.1 114.2,243.3 114.1,244.7 114.1,246.2 114.3,247.7 113.8,249.1 113.8,250.6 113.1,252.0 113.7,253.6 113.3,255.0 113.6,256.5 113.2,258.0 114.1,259.5 113.8,261.0 112.4,261.1 111.2,261.7 109.9,262.2 108.7,262.8 107.2,263.0 105.9,263.6 104.3,263.2 103.0,264.0 102.4,265.2 101.7,266.4 100.6,267.2 99.1,267.5 97.7,268.2 96.5,269.4 95.1,270.1 93.5,270.2 92.1,270.4 90.7,270.6 89.2,270.6 87.8,270.1 86.4,270.2 85.0,269.9 83.7,270.0 82.3,270.2 81.1,271.1 79.7,270.5 78.3,270.8 77.0,271.0 76.1,269.6 74.3,269.0 73.5,267.5 73.8,266.2 73.5,264.9 73.3,263.5 73.2,262.2 73.5,260.9 74.7,260.1 75.4,258.8 76.6,258.0 77.6,256.9 79.2,256.5 80.8,256.3 82.3,255.6 83.7,254.8 84.4,253.5 85.6,252.6 86.9,251.9 87.8,250.8 88.6,249.6 89.7,248.7 89.7,247.3 90.2,246.0 89.9,244.6 89.5,243.3 89.2,241.9 89.7,240.6 88.9,239.6 87.9,238.7 86.7,238.0 85.5,237.5 84.6,236.5 83.7,235.5 82.8,234.3 82.9,232.9 82.6,231.5 82.4,230.1 81.4,229.0 81.3,227.6 80.6,226.4 80.9,225.1 80.9,223.7 81.1,222.3 81.7,221.1 81.8,219.7Z" fill="#f9a493"/>
<path d="M121.2,229.4 122.6,229.5 123.8,228.4 125.3,229.2 126.6,229.0 128.0,229.3 129.3,228.4 130.7,229.4 132.5,229.5 134.2,229.5 135.9,230.0 137.5,230.5 138.9,230.4 140.0,229.1 141.5,229.4 142.8,228.6 144.1,228.2 145.6,228.4 147.1,228.3 148.0,229.8 149.6,229.5 150.7,230.5 151.9,231.5 152.5,233.0 152.6,234.4 153.3,235.6 153.7,236.9 154.2,238.2 153.8,239.7 154.4,241.0 154.2,242.4 154.8,243.7 154.7,245.0 155.9,246.2 155.9,247.5 155.9,248.9 155.7,250.3 156.4,251.5 156.0,252.8 156.5,254.1 156.7,255.4 156.5,256.7 156.5,258.1 156.0,259.4 156.8,260.7 156.5,262.0 156.4,263.4 156.7,264.8 156.8,266.1 157.1,267.5 157.5,268.8 158.0,270.1 158.0,271.5 158.4,272.8 158.6,274.1 158.5,275.5 159.4,276.7 159.5,278.0 159.5,279.4 158.5,280.7 158.2,282.3 157.6,283.8 156.5,285.0 156.4,286.4 155.4,287.5 154.1,287.5 152.8,287.9 151.5,287.7 150.2,288.4 148.9,287.8 147.6,288.5 146.3,288.5 145.4,287.2 144.8,285.8 144.3,284.3 143.7,282.9 143.2,281.4 141.8,281.5 140.5,281.6 139.2,282.0 137.9,282.5 136.5,282.5 135.1,282.3 133.7,282.5 132.4,282.9 131.1,283.4 129.7,283.9 128.4,283.8 127.0,283.9 125.6,283.2 124.3,283.5 122.9,283.4 122.8,282.0 122.1,280.7 121.5,279.5 121.8,277.9 121.4,276.6 120.9,275.3 120.2,274.0 120.0,272.7 120.1,271.2 119.2,270.0 119.7,268.4 118.9,267.2 118.4,265.9 117.6,264.8 116.1,264.3 115.3,263.3 114.7,262.0 113.8,261.0 114.1,259.5 113.2,258.0 113.6,256.5 113.3,255.0 113.7,253.6 113.1,252.0 113.8,250.6 113.8,249.1 114.3,247.7 114.1,246.2 114.1,244.7 114.2,243.3 114.6,242.1 115.4,240.9 115.9,239.7 115.6,238.2 116.8,237.2 116.4,235.6 117.2,234.5 118.3,233.3 119.4,232.1 120.6,231.0Z" fill="#f9a493"/>
<path d="M152.5,233.0 153.9,233.0 155.3,233.8 156.8,232.7 158.1,233.5 159.4,233.3 160.8,233.2 162.2,233.6 163.6,233.3 164.9,233.2 166.2,232.5 167.6,232.8 168.7,233.6 170.0,234.2 170.8,235.5 172.3,235.6 173.4,236.9 175.3,236.5 176.4,237.6 176.8,239.1 177.0,240.5 176.3,242.1 176.3,243.6 176.9,245.0 177.0,246.5 178.1,247.6 178.0,249.3 179.2,250.3 179.4,251.9 180.5,253.0 181.8,253.6 183.1,254.3 184.6,254.2 185.7,255.3 187.3,255.2 188.5,256.0 189.5,257.2 190.1,258.7 191.3,259.8 192.7,260.2 194.2,259.6 195.6,259.6 197.1,259.9 198.5,260.0 200.3,259.5 202.0,259.0 202.7,260.2 203.6,261.3 204.1,262.6 204.5,264.0 205.2,265.8 206.3,267.3 205.7,268.6 204.7,269.4 203.5,270.2 202.3,270.9 202.0,272.4 200.8,273.1 199.8,274.2 198.6,275.2 197.5,276.2 196.7,277.6 195.6,278.6 194.7,279.8 193.5,280.7 192.0,281.1 191.3,282.7 189.9,283.3 188.6,284.0 188.4,285.6 187.6,287.0 187.4,288.6 187.5,290.2 186.2,290.7 185.0,291.6 183.5,291.6 182.3,292.5 180.8,292.6 179.7,293.6 178.1,293.2 176.9,294.2 175.5,294.2 174.3,295.0 172.9,294.8 171.6,295.2 170.4,296.1 169.1,296.3 167.7,296.2 166.4,296.7 165.2,297.2 164.0,297.9 162.7,298.3 161.5,299.0 161.0,297.7 160.2,296.7 159.5,295.6 158.5,294.4 158.2,292.8 157.1,291.7 156.7,290.2 155.7,289.1 155.4,287.5 156.4,286.4 156.5,285.0 157.6,283.8 158.2,282.3 158.5,280.7 159.5,279.4 159.5,278.0 159.4,276.7 158.5,275.5 158.6,274.1 158.4,272.8 158.0,271.5 158.0,270.1 157.5,268.8 157.1,267.5 156.8,266.1 156.7,264.8 156.4,263.4 156.5,262.0 156.8,260.7 156.0,259.4 156.5,258.1 156.5,256.7 156.7,255.4 156.5,254.1 156.0,252.8 156.4,251.5 155.7,250.3 155.9,248.9 155.9,247.5 155.9,246.2 154.7,245.0 154.8,243.7 154.2,242.4 154.4,241.0 153.8,239.7 154.2,238.2 153.7,236.9 153.3,235.6 152.6,234.4Z" fill="#f9a493"/>
<path d="M176.4,237.6 175.9,236.3 176.0,234.9 176.0,233.6 176.4,232.3 176.5,231.0 176.0,229.7 175.7,228.3 176.4,227.0 176.9,225.6 177.4,224.2 178.2,223.0 179.4,221.8 179.6,220.3 179.9,218.9 180.5,217.5 181.8,217.2 183.1,216.7 184.0,215.4 185.8,216.1 187.0,215.4 188.3,215.0 189.5,214.4 190.6,213.5 192.1,213.3 193.5,213.3 195.0,212.8 196.4,213.5 197.9,212.6 199.3,212.6 200.8,213.2 202.1,212.6 203.5,212.4 204.9,212.5 206.2,211.9 207.5,211.6 209.0,212.2 209.3,210.7 210.0,209.4 211.1,208.4 212.0,207.3 213.3,206.4 214.9,207.5 216.2,207.0 217.5,206.1 219.0,206.5 220.3,206.1 221.6,206.2 222.9,206.1 224.2,205.7 225.6,206.7 226.9,206.9 228.2,206.1 228.4,207.7 229.8,208.8 229.9,210.4 230.4,211.9 231.2,213.2 230.9,214.6 229.6,215.4 229.5,216.9 228.4,217.9 227.8,219.1 227.2,220.3 226.8,221.5 226.9,222.9 226.5,224.1 226.1,225.4 226.0,226.7 225.5,227.9 225.4,229.2 225.1,230.5 225.0,231.9 225.3,233.4 224.6,234.8 224.5,236.3 224.6,237.7 224.0,239.1 224.1,240.6 224.2,242.0 224.8,243.3 225.4,244.6 225.5,246.1 226.1,247.3 226.1,248.8 226.3,250.3 225.9,251.7 226.1,253.2 225.6,254.6 225.4,256.0 225.7,257.5 225.1,258.9 226.0,261.0 224.7,261.6 223.4,262.2 222.0,262.5 220.4,262.1 219.2,263.3 217.7,263.1 216.4,263.6 215.0,264.0 213.6,264.1 212.5,265.0 211.4,265.7 210.1,266.1 208.6,266.0 207.6,267.0 206.3,267.3 205.2,265.8 204.5,264.0 204.1,262.6 203.6,261.3 202.7,260.2 202.0,259.0 200.3,259.5 198.5,260.0 197.1,259.9 195.6,259.6 194.2,259.6 192.7,260.2 191.3,259.8 190.1,258.7 189.5,257.2 188.5,256.0 187.3,255.2 185.7,255.3 184.6,254.2 183.1,254.3 181.8,253.6 180.5,253.0 179.4,251.9 179.2,250.3 178.0,249.3 178.1,247.6 177.0,246.5 176.9,245.0 176.3,243.6 176.3,242.1 177.0,240.5 176.8,239.1Z" fill="#f9a493"/>
<path d="M228.2,206.1 229.6,205.9 231.0,205.8 232.3,205.0 233.8,205.5 235.0,204.8 236.4,205.0 237.8,205.1 239.0,206.2 239.2,207.9 240.9,208.6 241.4,210.2 242.4,211.4 241.4,213.1 242.4,214.3 243.2,215.5 243.0,217.0 243.4,218.3 244.9,218.7 245.5,220.2 246.2,221.7 247.4,222.5 248.8,223.0 247.8,224.1 247.6,225.7 246.7,226.9 245.8,228.0 246.3,229.3 245.4,230.7 245.8,232.1 245.5,233.4 246.2,234.8 246.4,236.1 246.0,237.5 247.1,238.4 248.3,239.2 249.7,239.5 251.0,239.9 252.5,240.0 253.8,240.7 255.2,240.8 256.7,240.2 258.0,240.8 259.6,241.4 261.3,241.7 262.8,242.5 264.3,243.1 265.2,244.2 265.9,245.6 266.8,246.7 267.5,248.0 267.4,249.4 267.2,250.8 268.1,252.1 267.6,253.6 267.7,254.9 268.6,256.2 268.4,257.7 269.6,258.8 270.2,260.0 270.6,261.3 271.1,262.6 271.5,264.0 271.5,265.4 270.2,265.9 268.8,265.9 267.6,267.0 266.1,266.8 265.1,267.9 263.7,268.1 262.3,268.4 261.9,269.9 260.5,270.8 259.8,272.1 259.3,273.5 257.6,273.0 255.9,273.3 254.2,273.5 252.9,272.5 251.7,271.3 250.2,270.5 250.0,269.1 248.9,268.1 248.9,266.6 248.8,265.2 247.7,264.2 247.8,262.7 247.1,261.5 245.8,262.0 244.5,261.3 243.2,262.0 241.9,261.7 240.6,261.5 239.3,262.0 237.9,262.3 236.6,262.1 235.3,261.4 233.9,262.0 232.6,262.0 231.3,261.4 230.0,261.8 228.7,260.9 227.3,261.4 226.0,261.0 225.1,258.9 225.7,257.5 225.4,256.0 225.6,254.6 226.1,253.2 225.9,251.7 226.3,250.3 226.1,248.8 226.1,247.3 225.5,246.1 225.4,244.6 224.8,243.3 224.2,242.0 224.1,240.6 224.0,239.1 224.6,237.7 224.5,236.3 224.6,234.8 225.3,233.4 225.0,231.9 225.1,230.5 225.4,229.2 225.5,227.9 226.0,226.7 226.1,225.4 226.5,224.1 226.9,222.9 226.8,221.5 227.2,220.3 227.8,219.1 228.4,217.9 229.5,216.9 229.6,215.4 230.9,214.6 231.2,213.2 230.4,211.9 229.9,210.4 229.8,208.8 228.4,207.7Z" fill="#f9a493"/>
<path d="M271.5,265.4 273.2,265.6 274.8,266.0 276.5,265.4 278.0,265.9 279.6,265.4 281.1,265.6 282.6,265.4 283.6,266.5 285.4,266.3 286.1,267.8 287.2,268.8 288.7,269.0 290.2,269.7 291.7,269.9 293.3,269.7 294.8,270.0 295.8,268.9 297.5,268.9 298.3,267.6 299.9,267.5 300.9,266.4 302.6,266.6 303.9,265.4 305.4,264.9 307.0,264.6 307.4,266.2 308.5,267.2 310.1,267.8 311.0,269.0 311.5,270.5 312.9,271.1 313.2,272.8 314.4,273.7 316.1,273.9 316.5,275.6 317.4,276.7 318.9,277.1 318.7,278.4 319.0,279.8 318.9,281.1 319.3,282.4 319.4,283.7 318.4,285.1 318.8,286.4 318.9,287.7 318.6,289.0 317.9,290.3 318.1,291.8 317.3,293.0 317.1,294.4 317.4,295.9 317.0,297.2 316.5,298.5 315.1,299.0 314.1,300.2 312.4,300.1 311.1,300.6 309.8,301.4 308.9,302.7 307.4,303.0 306.0,303.5 305.3,304.8 303.9,305.3 302.9,306.2 301.9,307.2 300.9,308.2 299.7,308.8 298.6,309.7 297.9,311.0 296.7,311.8 295.8,312.9 294.5,313.6 293.9,314.9 292.5,315.5 290.6,316.0 288.7,316.1 287.6,315.4 286.6,314.5 285.4,313.9 284.8,312.6 283.7,311.8 282.6,311.1 281.5,310.1 281.1,308.6 280.0,307.6 279.0,306.5 278.6,305.0 277.2,304.7 276.1,303.7 274.9,303.2 273.7,302.5 272.1,302.8 271.1,301.7 269.5,301.8 268.4,300.9 266.9,300.6 265.6,299.9 264.1,299.7 262.6,299.6 261.3,298.9 262.5,298.3 263.4,297.3 264.2,296.2 265.5,295.7 266.4,294.8 266.8,293.3 266.9,291.6 268.1,290.3 268.4,288.7 267.2,287.9 266.4,286.6 265.3,285.7 264.0,285.0 263.6,283.3 262.3,282.6 261.5,281.4 261.4,280.0 261.0,278.7 260.2,277.5 260.3,276.1 259.6,274.8 259.3,273.5 259.8,272.1 260.5,270.8 261.9,269.9 262.3,268.4 263.7,268.1 265.1,267.9 266.1,266.8 267.6,267.0 268.8,265.9 270.2,265.9Z" fill="#fdcbc3"/>
<path d="M318.9,277.1 320.4,277.3 321.7,277.7 322.9,278.7 324.4,278.7 325.7,279.4 327.0,280.0 328.4,279.7 329.5,281.0 330.9,280.4 332.2,280.7 333.5,281.1 334.7,281.8 336.1,281.3 337.3,282.2 338.7,281.8 340.0,282.0 341.2,282.6 342.5,283.2 344.0,283.0 345.0,284.2 346.4,284.4 347.8,284.7 348.6,286.3 350.0,286.5 351.6,286.8 352.8,288.0 354.0,289.1 355.5,289.6 356.4,290.9 357.6,292.0 358.3,293.5 357.5,294.7 356.6,296.0 355.5,297.0 355.6,298.8 354.2,299.7 353.5,301.0 353.4,302.6 352.9,304.1 351.7,305.4 351.6,307.0 351.9,308.3 352.2,309.6 352.6,310.8 352.5,312.2 352.6,313.5 353.6,314.6 353.7,316.0 354.2,317.2 354.5,318.5 354.3,319.9 353.9,321.2 354.1,322.6 353.9,323.9 353.8,325.3 353.0,326.6 353.5,328.0 353.1,329.4 352.7,330.7 352.5,332.1 353.3,333.6 352.8,334.9 352.1,336.3 352.6,337.7 351.3,337.1 349.9,338.2 348.6,338.1 347.3,337.6 346.0,338.1 344.7,337.8 343.4,338.0 342.1,337.1 340.8,336.9 339.5,336.7 338.1,337.8 336.8,337.2 335.9,335.9 335.3,334.4 334.8,332.9 333.6,331.8 332.6,330.7 331.5,329.8 330.9,328.4 329.4,327.9 328.5,326.7 327.9,325.3 327.2,324.0 326.3,322.8 325.4,321.6 324.6,320.3 324.5,318.8 324.6,317.2 323.7,315.8 323.4,314.3 323.7,312.7 323.2,311.4 322.8,310.1 321.8,309.0 322.0,307.5 320.8,306.4 320.8,305.0 319.6,303.9 319.4,302.2 318.1,301.2 317.2,299.9 316.5,298.5 317.0,297.2 317.4,295.9 317.1,294.4 317.3,293.0 318.1,291.8 317.9,290.3 318.6,289.0 318.9,287.7 318.8,286.4 318.4,285.1 319.4,283.7 319.3,282.4 318.9,281.1 319.0,279.8 318.7,278.4Z" fill="#e5e3d8"/>
<path d="M316.5,298.5 317.2,299.9 318.1,301.2 319.4,302.2 319.6,303.9 320.8,305.0 320.8,306.4 322.0,307.5 321.8,309.0 322.8,310.1 323.2,311.4 323.7,312.7 323.4,314.3 323.7,315.8 324.6,317.2 324.5,318.8 324.6,320.3 325.4,321.6 326.3,322.8 327.2,324.0 327.9,325.3 328.5,326.7 329.4,327.9 330.9,328.4 331.5,329.8 332.6,330.7 333.6,331.8 334.8,332.9 335.3,334.4 335.9,335.9 336.8,337.2 335.7,338.0 335.0,339.3 333.6,339.5 331.9,339.9 330.8,341.1 329.4,341.8 328.5,343.3 328.0,345.0 326.8,346.1 326.1,347.6 324.6,348.5 323.9,349.7 324.4,351.1 324.4,352.5 323.7,353.6 323.3,354.9 322.3,356.0 322.0,357.3 322.0,358.7 320.9,359.6 319.6,360.2 317.9,359.7 316.8,360.7 315.6,361.3 314.2,361.4 313.3,362.7 312.0,363.2 310.4,362.7 309.3,363.5 308.0,363.8 306.9,364.9 305.2,364.2 304.0,365.2 302.6,365.5 301.5,366.4 301.2,365.0 301.2,363.5 301.3,362.0 300.9,360.6 300.4,359.1 300.2,357.7 300.3,356.2 300.5,354.7 301.7,353.7 302.5,352.5 302.8,351.0 301.5,350.3 301.0,348.7 299.6,348.1 298.4,347.3 297.7,345.9 296.9,344.7 295.8,343.9 295.0,342.9 293.7,342.2 292.9,341.1 292.0,340.1 290.8,339.4 291.2,338.2 291.6,336.9 291.8,335.6 292.7,334.4 293.3,333.0 294.0,331.6 295.1,330.5 295.1,329.2 295.2,327.9 296.2,326.7 295.8,325.3 296.6,324.1 296.4,322.8 296.1,321.5 295.6,320.3 295.7,318.9 295.1,317.7 293.9,316.4 292.5,315.5 293.9,314.9 294.5,313.6 295.8,312.9 296.7,311.8 297.9,311.0 298.6,309.7 299.7,308.8 300.9,308.2 301.9,307.2 302.9,306.2 303.9,305.3 305.3,304.8 306.0,303.5 307.4,303.0 308.9,302.7 309.8,301.4 311.1,300.6 312.4,300.1 314.1,300.2 315.1,299.0Z" fill="#fdcbc3"/>
<path d="M290.8,339.4 292.0,340.1 292.9,341.1 293.7,342.2 295.0,342.9 295.8,343.9 296.9,344.7 297.7,345.9 298.4,347.3 299.6,348.1 301.0,348.7 301.5,350.3 302.8,351.0 302.5,352.5 301.7,353.7 300.5,354.7 300.3,356.2 300.2,357.7 300.4,359.1 300.9,360.6 301.3,362.0 301.2,363.5 301.2,365.0 301.5,366.4 300.5,367.5 298.8,366.9 298.0,368.5 296.3,367.8 295.3,368.9 294.1,369.5 292.8,369.8 291.4,370.2 289.9,370.2 288.9,371.7 287.6,372.4 286.0,372.3 284.7,372.9 283.4,373.6 282.1,374.1 280.7,374.4 279.4,374.9 278.0,375.0 276.5,374.9 275.4,375.8 274.2,376.4 272.7,376.4 271.8,377.6 270.5,377.9 269.5,378.8 268.8,380.1 267.6,380.8 266.4,381.5 265.6,382.9 264.0,383.0 263.0,381.6 262.3,380.0 261.7,378.6 260.8,377.5 259.7,376.5 259.0,375.2 258.3,373.9 257.5,372.6 256.3,371.7 255.6,370.4 255.1,369.0 254.2,367.8 253.8,366.4 254.0,364.8 253.4,363.4 252.9,362.0 252.8,360.5 252.3,359.1 252.2,357.6 251.3,356.4 251.1,355.0 250.9,353.5 250.0,352.4 249.5,351.0 249.0,349.6 248.1,348.5 249.5,348.5 250.7,348.1 251.8,347.0 253.1,346.8 254.5,346.8 255.8,346.5 257.1,346.1 258.3,345.5 258.1,344.1 258.7,342.8 259.2,341.4 258.9,340.0 258.9,338.6 259.3,337.3 259.0,335.6 259.0,333.9 258.3,332.3 259.7,331.9 261.2,331.8 262.6,331.5 264.1,332.0 265.5,331.7 267.0,331.5 268.4,331.2 269.9,331.1 271.3,330.9 272.8,330.9 274.2,331.2 275.7,331.2 277.1,331.5 278.6,331.2 279.6,332.2 279.8,333.7 280.6,334.8 281.6,335.8 281.7,337.3 282.6,338.4 283.9,338.9 285.3,339.2 286.7,338.5 288.0,339.5 289.5,338.8Z" fill="#fdcbc3"/>
<path d="M248.1,348.5 249.0,349.6 249.5,351.0 250.0,352.4 250.9,353.5 251.1,355.0 251.3,356.4 252.2,357.6 252.3,359.1 252.8,360.5 252.9,362.0 253.4,363.4 254.0,364.8 253.8,366.4 254.2,367.8 255.1,369.0 255.6,370.4 256.3,371.7 257.5,372.6 258.3,373.9 259.0,375.2 259.7,376.5 260.8,377.5 261.7,378.6 262.3,380.0 263.0,381.6 264.0,383.0 262.6,384.3 260.8,385.0 261.2,386.5 259.8,387.5 259.8,388.8 259.5,390.1 260.1,391.4 259.9,392.8 259.4,394.2 260.8,395.4 259.9,396.9 260.5,398.2 259.5,397.2 258.7,396.1 258.3,394.7 257.0,394.0 255.7,393.5 254.6,392.8 253.5,391.9 252.5,391.0 251.0,391.0 249.7,390.7 248.7,389.5 247.4,389.2 246.1,388.8 244.7,388.6 243.5,388.0 241.9,387.9 240.3,387.9 238.9,387.5 237.3,387.2 236.0,386.2 234.6,386.2 233.4,387.3 232.1,387.7 230.8,388.2 229.2,387.5 228.0,388.3 226.2,388.1 224.6,388.6 222.9,389.2 221.6,389.5 220.3,389.6 219.0,389.5 217.7,389.2 216.3,389.0 214.8,389.1 213.4,388.4 212.0,388.4 210.8,387.1 209.2,387.5 208.0,386.4 206.4,386.6 204.8,386.6 203.7,385.1 202.0,385.6 200.6,384.9 199.2,384.5 197.7,384.3 196.7,383.2 195.5,382.4 196.4,381.0 197.7,381.1 199.0,381.3 200.4,381.0 201.7,381.6 203.0,381.7 201.4,382.1 200.2,381.3 198.9,380.6 197.5,379.7 197.2,378.1 198.8,377.3 200.6,376.8 202.0,376.0 203.4,375.8 204.9,376.4 206.3,376.2 207.7,376.2 209.0,376.9 210.4,376.9 211.8,377.0 210.7,375.9 209.2,375.5 207.9,375.0 206.5,374.7 205.2,374.2 203.7,374.6 202.4,374.2 202.4,372.6 203.2,371.2 204.6,370.5 206.1,370.2 207.5,369.5 208.9,368.8 210.4,368.4 211.8,367.8 213.3,367.5 214.9,367.4 216.3,366.7 217.8,366.2 219.4,366.1 220.1,364.8 221.2,364.0 222.3,363.1 222.9,361.8 223.6,360.4 224.6,359.2 224.7,357.8 224.4,356.5 224.1,355.1 224.0,353.8 223.7,352.5 223.7,351.1 223.5,349.7 223.3,348.4 223.6,347.0 225.0,346.5 226.5,346.7 227.9,347.3 229.4,347.5 230.8,346.5 232.3,347.0 233.7,347.0 235.3,346.6 236.9,346.5 238.4,345.6 240.0,345.5 241.4,346.0 242.8,346.4 243.9,347.3 245.5,347.3 246.6,348.4Z" fill="#fdcbc3"/>
<path d="M223.6,347.0 223.3,348.4 223.5,349.7 223.7,351.1 223.7,352.5 224.0,353.8 224.1,355.1 224.4,356.5 224.7,357.8 224.6,359.2 223.6,360.4 222.9,361.8 222.3,363.1 221.2,364.0 220.1,364.8 219.4,366.1 217.8,366.2 216.3,366.7 214.9,367.4 213.3,367.5 211.8,367.8 210.4,368.4 208.9,368.8 207.5,369.5 206.1,370.2 204.6,370.5 203.2,371.2 202.4,372.6 202.4,374.2 201.1,374.4 199.9,373.3 198.5,374.4 197.2,373.8 196.1,373.1 194.7,373.0 193.2,372.9 191.7,373.9 190.2,372.8 188.7,373.4 188.1,372.2 188.7,370.8 188.2,369.5 187.5,368.2 187.5,366.7 187.0,365.3 188.0,364.0 189.5,363.2 190.4,361.8 189.4,360.6 189.3,359.0 188.7,357.6 187.9,356.3 186.9,355.2 186.4,353.8 185.7,352.4 185.0,351.1 183.8,350.6 182.7,349.8 181.6,349.1 180.7,348.0 179.3,347.7 178.0,347.4 176.9,346.6 176.1,345.4 174.8,345.0 174.4,343.7 174.6,342.2 173.3,341.1 173.5,339.6 173.2,338.2 172.8,336.9 172.0,335.5 171.7,333.9 171.6,332.2 170.8,330.8 172.2,329.9 173.7,329.3 175.5,329.6 176.9,328.7 178.3,329.2 179.8,329.1 181.2,329.5 182.7,329.4 184.1,329.2 185.6,329.2 187.0,329.7 188.5,329.3 189.9,330.0 191.4,329.4 192.8,329.5 194.3,329.6 195.7,329.2 197.2,329.7 198.4,330.8 199.4,332.1 200.0,333.7 201.2,334.8 202.3,335.7 203.4,336.7 203.9,338.2 205.3,338.9 206.7,338.6 208.1,338.6 209.4,338.0 210.6,337.1 212.0,337.1 213.4,336.9 214.8,337.2 216.0,337.8 217.5,337.8 218.8,338.4 220.1,338.6 221.5,338.9 222.1,340.2 221.8,341.7 222.9,342.8 222.6,344.4 223.6,345.6Z" fill="#fdcbc3"/>
<path d="M170.8,330.8 171.6,332.2 171.7,333.9 172.0,335.5 172.8,336.9 173.2,338.2 173.5,339.6 173.3,341.1 174.6,342.2 174.4,343.7 174.8,345.0 176.1,345.4 176.9,346.6 178.0,347.4 179.3,347.7 180.7,348.0 181.6,349.1 182.7,349.8 183.8,350.6 185.0,351.1 185.7,352.4 186.4,353.8 186.9,355.2 187.9,356.3 188.7,357.6 189.3,359.0 189.4,360.6 190.4,361.8 189.5,363.2 188.0,364.0 187.0,365.3 187.5,366.7 187.5,368.2 188.2,369.5 188.7,370.8 188.1,372.2 188.7,373.4 187.0,373.1 185.3,373.7 183.7,374.1 182.5,375.1 181.5,376.2 181.3,378.0 179.9,378.8 179.0,380.0 178.3,381.2 177.2,382.1 176.6,383.3 175.9,384.4 175.5,385.8 174.5,386.7 174.3,388.2 173.1,389.2 172.2,390.4 171.8,392.0 171.1,393.4 169.6,394.1 168.8,395.5 167.4,396.1 166.5,397.4 164.6,397.5 163.8,398.8 162.6,399.5 161.3,400.2 160.2,401.1 160.3,402.6 160.5,404.1 161.1,405.5 161.4,407.0 161.7,408.6 160.2,409.6 160.2,411.1 160.2,409.6 159.5,408.4 159.1,407.0 157.5,406.5 156.0,406.0 154.4,405.8 153.2,407.0 151.3,406.7 150.1,407.9 148.5,408.2 147.3,409.3 145.8,409.5 144.1,409.3 143.0,410.5 141.4,410.5 140.1,409.7 138.8,408.9 137.2,409.1 135.7,408.8 134.4,408.2 133.8,407.0 133.4,405.7 132.6,404.6 133.9,403.7 134.8,402.4 135.8,401.3 136.7,400.0 137.1,398.4 138.1,397.3 139.1,396.2 140.3,395.2 141.5,394.5 142.0,393.1 143.2,392.5 143.5,390.9 145.0,390.5 144.5,389.0 144.9,387.7 145.6,386.3 145.8,384.9 145.6,383.5 146.0,382.0 145.6,380.3 146.1,378.8 147.3,378.0 148.5,377.2 149.7,376.4 152.0,377.6 153.6,378.0 155.3,377.8 156.7,378.8 158.6,378.8 160.2,377.6 161.6,377.8 162.3,379.4 163.8,379.4 165.7,379.7 167.3,378.8 166.3,377.5 166.8,376.0 167.1,374.5 167.0,373.0 166.1,371.7 165.2,370.6 164.1,369.6 163.1,368.4 162.6,367.0 161.8,365.7 160.0,365.8 159.1,364.7 158.6,363.5 157.4,362.6 157.3,361.2 156.7,360.0 156.7,358.4 155.0,357.7 155.3,356.0 154.3,354.9 154.2,353.4 153.4,352.2 152.5,351.1 151.8,349.7 152.5,348.1 151.6,346.7 150.7,345.4 150.3,344.0 150.8,342.4 150.5,340.9 149.8,339.7 149.1,338.6 148.3,337.5 147.9,336.2 147.3,335.0 147.4,333.5 146.4,332.5 147.8,332.7 149.1,332.7 150.4,332.0 151.8,332.0 153.2,332.0 154.5,331.8 155.9,331.4 157.1,330.7 158.0,329.6 159.1,328.7 160.6,328.5 161.7,327.7 162.8,326.8 164.0,327.6 165.5,328.1 166.9,328.6 168.2,329.3 169.3,330.5Z" fill="#fdcbc3"/>
<path d="M122.9,283.4 124.3,283.5 125.6,283.2 127.0,283.9 128.4,283.8 129.7,283.9 131.1,283.4 132.4,282.9 133.7,282.5 135.1,282.3 136.5,282.5 137.9,282.5 139.2,282.0 140.5,281.6 141.8,281.5 143.2,281.4 143.7,282.9 144.3,284.3 144.8,285.8 145.4,287.2 146.3,288.5 147.6,288.5 148.9,287.8 150.2,288.4 151.5,287.7 152.8,287.9 154.1,287.5 155.4,287.5 155.7,289.1 156.7,290.2 157.1,291.7 158.2,292.8 158.5,294.4 159.5,295.6 160.2,296.7 161.0,297.7 161.5,299.0 161.2,300.5 161.1,301.9 161.9,303.4 161.4,304.9 161.4,306.3 161.5,307.8 162.1,309.1 162.3,310.5 162.9,311.8 163.2,313.1 163.5,314.5 163.6,315.9 164.1,317.2 164.7,318.4 165.7,319.4 166.4,320.6 166.6,322.0 165.8,323.3 164.6,324.3 164.0,325.8 162.8,326.8 161.7,327.7 160.6,328.5 159.1,328.7 158.0,329.6 157.1,330.7 155.9,331.4 154.5,331.8 153.2,332.0 151.8,332.0 150.4,332.0 149.1,332.7 147.8,332.7 146.4,332.5 145.3,331.1 144.1,330.4 142.6,330.8 141.6,329.4 140.4,328.9 139.0,328.9 137.7,328.7 136.4,328.3 135.1,328.1 133.8,327.7 132.3,327.8 131.4,326.4 130.1,325.9 128.9,325.2 127.3,325.6 126.1,324.8 125.0,324.0 123.4,323.9 122.6,322.2 120.7,322.5 119.4,321.7 118.6,320.0 116.9,320.0 117.2,318.6 117.3,317.3 117.1,315.9 117.4,314.6 116.5,313.2 116.9,311.9 116.9,310.5 117.3,309.1 117.9,307.8 118.6,306.5 118.1,305.0 118.9,303.7 119.8,302.7 120.7,301.8 122.1,301.4 123.0,300.4 123.7,299.2 125.0,298.7 124.7,297.2 124.3,295.8 123.7,294.4 123.0,293.0 122.9,291.5 123.2,290.1 123.2,288.8 123.2,287.4 123.2,286.1 122.7,284.8Z" fill="#f9a493"/>
<path d="M161.5,299.0 162.7,298.3 164.0,297.9 165.2,297.2 166.4,296.7 167.7,296.2 169.1,296.3 170.4,296.1 171.6,295.2 172.9,294.8 174.3,295.0 175.5,294.2 176.9,294.2 178.1,293.2 179.7,293.6 180.8,292.6 182.3,292.5 183.5,291.6 185.0,291.6 186.2,290.7 187.5,290.2 187.4,288.6 187.6,287.0 188.4,285.6 188.6,284.0 189.9,283.3 191.3,282.7 192.0,281.1 193.5,280.7 194.7,279.8 195.6,278.6 196.7,277.6 197.5,276.2 198.6,275.2 199.8,274.2 200.8,273.1 202.0,272.4 202.3,270.9 203.5,270.2 204.7,269.4 205.7,268.6 206.3,267.3 206.3,268.7 207.3,269.8 206.8,271.3 207.6,272.5 207.5,273.9 207.9,275.2 208.2,276.6 209.3,277.6 209.9,278.8 211.0,279.7 212.0,280.7 212.7,281.9 213.0,283.3 214.0,284.4 214.2,285.9 215.0,287.1 215.6,288.4 215.9,289.8 217.2,290.8 217.5,292.2 218.3,293.6 218.4,295.3 219.5,296.6 219.5,298.3 221.2,298.9 222.3,300.2 223.6,301.3 222.7,302.3 221.6,303.0 220.6,303.9 219.3,304.5 218.3,305.3 217.5,306.4 216.0,306.5 214.8,305.8 213.5,304.9 212.0,305.3 210.8,304.3 209.3,304.4 207.8,304.8 206.6,305.6 205.3,306.4 204.0,306.8 202.5,306.6 201.3,307.8 199.8,307.5 198.6,308.3 197.2,308.4 196.1,309.3 194.6,309.4 193.4,310.1 192.0,310.3 190.8,311.0 189.6,311.6 188.1,311.5 187.0,312.5 185.6,312.4 184.3,312.7 183.0,313.3 181.6,313.5 180.3,313.5 178.9,313.5 177.6,314.1 176.6,315.0 175.7,316.0 175.1,317.4 173.6,317.7 172.8,318.8 171.9,319.8 170.8,320.6 169.5,321.3 168.6,322.4 167.4,323.3 166.1,323.9 165.0,324.9 163.7,325.6 162.8,326.8 164.0,325.8 164.6,324.3 165.8,323.3 166.6,322.0 166.4,320.6 165.7,319.4 164.7,318.4 164.1,317.2 163.6,315.9 163.5,314.5 163.2,313.1 162.9,311.8 162.3,310.5 162.1,309.1 161.5,307.8 161.4,306.3 161.4,304.9 161.9,303.4 161.1,301.9 161.2,300.5Z" fill="#f9a493"/>
<path d="M206.3,267.3 207.6,267.0 208.6,266.0 210.1,266.1 211.4,265.7 212.5,265.0 213.6,264.1 215.0,264.0 216.4,263.6 217.7,263.1 219.2,263.3 220.4,262.1 222.0,262.5 223.4,262.2 224.7,261.6 226.0,261.0 227.3,261.4 228.7,260.9 230.0,261.8 231.3,261.4 232.6,262.0 233.9,262.0 235.3,261.4 236.6,262.1 237.9,262.3 239.3,262.0 240.6,261.5 241.9,261.7 243.2,262.0 244.5,261.3 245.8,262.0 247.1,261.5 247.8,262.7 247.7,264.2 248.8,265.2 248.9,266.6 248.9,268.1 250.0,269.1 250.2,270.5 251.7,271.3 252.9,272.5 254.2,273.5 255.9,273.3 257.6,273.0 259.3,273.5 259.6,274.8 260.3,276.1 260.2,277.5 261.0,278.7 261.4,280.0 261.5,281.4 262.3,282.6 263.6,283.3 264.0,285.0 265.3,285.7 266.4,286.6 267.2,287.9 268.4,288.7 268.1,290.3 266.9,291.6 266.8,293.3 266.4,294.8 265.5,295.7 264.2,296.2 263.4,297.3 262.5,298.3 261.3,298.9 260.0,299.1 258.7,299.5 257.3,299.5 256.1,300.2 254.9,300.7 253.5,300.8 252.2,300.9 251.4,302.1 250.1,302.8 248.8,303.6 247.9,304.8 246.8,305.7 246.1,307.0 244.7,307.5 243.6,308.4 242.4,309.3 241.0,309.8 239.8,310.5 238.4,309.9 237.2,309.1 236.4,307.6 234.8,307.4 233.7,306.4 232.3,306.0 231.0,305.5 230.1,304.1 228.7,303.7 227.5,303.0 226.3,302.3 224.7,302.2 223.6,301.3 222.3,300.2 221.2,298.9 219.5,298.3 219.5,296.6 218.4,295.3 218.3,293.6 217.5,292.2 217.2,290.8 215.9,289.8 215.6,288.4 215.0,287.1 214.2,285.9 214.0,284.4 213.0,283.3 212.7,281.9 212.0,280.7 211.0,279.7 209.9,278.8 209.3,277.6 208.2,276.6 207.9,275.2 207.5,273.9 207.6,272.5 206.8,271.3 207.3,269.8 206.3,268.7Z" fill="#f9a493"/>
<path d="M162.8,326.8 163.7,325.6 165.0,324.9 166.1,323.9 167.4,323.3 168.6,322.4 169.5,321.3 170.8,320.6 171.9,319.8 172.8,318.8 173.6,317.7 175.1,317.4 175.7,316.0 176.6,315.0 177.6,314.1 178.9,313.5 180.3,313.5 181.6,313.5 183.0,313.3 184.3,312.7 185.6,312.4 187.0,312.5 188.1,311.5 189.6,311.6 190.8,311.0 192.0,310.3 193.4,310.1 194.6,309.4 196.1,309.3 197.2,308.4 198.6,308.3 199.8,307.5 201.3,307.8 202.5,306.6 204.0,306.8 205.3,306.4 206.6,305.6 207.8,304.8 209.3,304.4 210.8,304.3 212.0,305.3 213.5,304.9 214.8,305.8 216.0,306.5 217.5,306.4 218.3,305.3 219.3,304.5 220.6,303.9 221.6,303.0 222.7,302.3 223.6,301.3 224.7,302.2 226.3,302.3 227.5,303.0 228.7,303.7 230.1,304.1 231.0,305.5 232.3,306.0 233.7,306.4 234.8,307.4 236.4,307.6 237.2,309.1 238.4,309.9 239.8,310.5 238.8,311.6 237.6,312.5 236.4,313.3 234.8,313.5 233.7,314.5 233.1,316.0 232.5,317.5 232.0,319.0 231.7,320.6 231.8,322.1 230.9,323.3 230.8,324.7 230.0,325.9 229.6,327.3 229.6,328.7 228.2,329.2 227.4,330.7 225.8,330.9 224.6,331.6 223.6,332.8 222.7,334.2 222.9,336.0 222.3,337.5 221.5,338.9 220.1,338.6 218.8,338.4 217.5,337.8 216.0,337.8 214.8,337.2 213.4,336.9 212.0,337.1 210.6,337.1 209.4,338.0 208.1,338.6 206.7,338.6 205.3,338.9 203.9,338.2 203.4,336.7 202.3,335.7 201.2,334.8 200.0,333.7 199.4,332.1 198.4,330.8 197.2,329.7 195.7,329.2 194.3,329.6 192.8,329.5 191.4,329.4 189.9,330.0 188.5,329.3 187.0,329.7 185.6,329.2 184.1,329.2 182.7,329.4 181.2,329.5 179.8,329.1 178.3,329.2 176.9,328.7 175.5,329.6 173.7,329.3 172.2,329.9 170.8,330.8 169.3,330.5 168.2,329.3 166.9,328.6 165.5,328.1 164.0,327.6Z" fill="#f9a493"/>
<path d="M239.8,310.5 241.0,309.8 242.4,309.3 243.6,308.4 244.7,307.5 246.1,307.0 246.8,305.7 247.9,304.8 248.8,303.6 250.1,302.8 251.4,302.1 252.2,300.9 253.5,300.8 254.9,300.7 256.1,300.2 257.3,299.5 258.7,299.5 260.0,299.1 261.3,298.9 262.6,299.6 264.1,299.7 265.6,299.9 266.9,300.6 268.4,300.9 269.5,301.8 271.1,301.7 272.1,302.8 273.7,302.5 274.9,303.2 276.1,303.7 277.2,304.7 278.6,305.0 279.0,306.5 280.0,307.6 281.1,308.6 281.5,310.1 282.6,311.1 283.7,311.8 284.8,312.6 285.4,313.9 286.6,314.5 287.6,315.4 288.7,316.1 290.6,316.0 292.5,315.5 293.9,316.4 295.1,317.7 295.7,318.9 295.6,320.3 296.1,321.5 296.4,322.8 296.6,324.1 295.8,325.3 296.2,326.7 295.2,327.9 295.1,329.2 295.1,330.5 294.0,331.6 293.3,333.0 292.7,334.4 291.8,335.6 291.6,336.9 291.2,338.2 290.8,339.4 289.5,338.8 288.0,339.5 286.7,338.5 285.3,339.2 283.9,338.9 282.6,338.4 281.7,337.3 281.6,335.8 280.6,334.8 279.8,333.7 279.6,332.2 278.6,331.2 277.1,331.5 275.7,331.2 274.2,331.2 272.8,330.9 271.3,330.9 269.9,331.1 268.4,331.2 267.0,331.5 265.5,331.7 264.1,332.0 262.6,331.5 261.2,331.8 259.7,331.9 258.3,332.3 259.0,333.9 259.0,335.6 259.3,337.3 258.9,338.6 258.9,340.0 259.2,341.4 258.7,342.8 258.1,344.1 258.3,345.5 257.1,346.1 255.8,346.5 254.5,346.8 253.1,346.8 251.8,347.0 250.7,348.1 249.5,348.5 248.1,348.5 246.6,348.4 245.5,347.3 243.9,347.3 242.8,346.4 241.4,346.0 240.0,345.5 238.4,345.6 236.9,346.5 235.3,346.6 233.7,347.0 232.3,347.0 230.8,346.5 229.4,347.5 227.9,347.3 226.5,346.7 225.0,346.5 223.6,347.0 223.6,345.6 222.6,344.4 222.9,342.8 221.8,341.7 222.1,340.2 221.5,338.9 222.3,337.5 222.9,336.0 222.7,334.2 223.6,332.8 224.6,331.6 225.8,330.9 227.4,330.7 228.2,329.2 229.6,328.7 229.6,327.3 230.0,325.9 230.8,324.7 230.9,323.3 231.8,322.1 231.7,320.6 232.0,319.0 232.5,317.5 233.1,316.0 233.7,314.5 234.8,313.5 236.4,313.3 237.6,312.5 238.8,311.6Z" fill="#fdcbc3"/>
<path d="M93.5,270.2 95.1,270.1 96.5,269.4 97.7,268.2 99.1,267.5 100.6,267.2 101.7,266.4 102.4,265.2 103.0,264.0 104.3,263.2 105.9,263.6 107.2,263.0 108.7,262.8 109.9,262.2 111.2,261.7 112.4,261.1 113.8,261.0 114.7,262.0 115.3,263.3 116.1,264.3 117.6,264.8 118.4,265.9 118.9,267.2 119.7,268.4 119.2,270.0 120.1,271.2 120.0,272.7 120.2,274.0 120.9,275.3 121.4,276.6 121.8,277.9 121.5,279.5 122.1,280.7 122.8,282.0 122.9,283.4 122.7,284.8 123.2,286.1 123.2,287.4 123.2,288.8 123.2,290.1 122.9,291.5 123.0,293.0 123.7,294.4 124.3,295.8 124.7,297.2 125.0,298.7 123.7,299.2 123.0,300.4 122.1,301.4 120.7,301.8 119.8,302.7 118.9,303.7 118.1,305.0 118.6,306.5 117.9,307.8 117.3,309.1 116.9,310.5 116.9,311.9 116.5,313.2 117.4,314.6 117.1,315.9 117.3,317.3 117.2,318.6 116.9,320.0 115.5,319.9 114.1,319.5 112.8,319.1 111.5,318.5 110.1,318.2 108.7,318.0 107.3,318.0 106.0,318.6 104.7,318.7 103.4,319.1 102.0,318.8 100.6,319.0 99.3,318.3 97.8,318.1 96.4,317.6 95.0,317.2 94.6,315.8 95.0,314.3 94.4,312.9 94.5,311.4 94.5,310.0 94.4,308.5 94.3,307.1 94.4,305.6 93.7,304.1 93.8,302.6 93.7,301.2 93.5,299.7 93.5,298.3 92.9,296.9 93.4,295.4 93.0,294.0 92.8,292.6 93.4,291.1 92.4,289.8 92.7,288.3 92.6,286.9 92.5,285.5 92.1,284.1 92.9,282.7 92.3,281.3 92.7,279.9 92.8,278.5 93.5,277.2 93.0,275.8 93.1,274.4 93.7,273.0 92.9,271.6Z" fill="#f9a493"/>
<path d="M77.0,271.0 78.3,270.8 79.7,270.5 81.1,271.1 82.3,270.2 83.7,270.0 85.0,269.9 86.4,270.2 87.8,270.1 89.2,270.6 90.7,270.6 92.1,270.4 93.5,270.2 92.9,271.6 93.7,273.0 93.1,274.4 93.0,275.8 93.5,277.2 92.8,278.5 92.7,279.9 92.3,281.3 92.9,282.7 92.1,284.1 92.5,285.5 92.6,286.9 92.7,288.3 92.4,289.8 93.4,291.1 92.8,292.6 93.0,294.0 93.4,295.4 92.9,296.9 93.5,298.3 93.5,299.7 93.7,301.2 93.8,302.6 93.7,304.1 94.4,305.6 94.3,307.1 94.4,308.5 94.5,310.0 94.5,311.4 94.4,312.9 95.0,314.3 94.6,315.8 95.0,317.2 93.3,317.2 91.7,317.3 90.0,317.5 88.5,317.3 87.2,316.5 85.8,315.9 84.5,315.2 83.1,314.7 81.9,313.5 80.1,313.1 78.9,311.9 77.6,311.3 76.4,310.6 75.4,309.6 74.3,308.8 73.3,307.8 72.3,306.7 71.2,305.7 70.8,304.1 69.4,303.3 68.4,302.2 67.8,300.8 68.0,299.4 67.6,298.0 67.0,296.7 67.4,295.2 67.3,293.8 67.1,292.4 66.8,291.1 66.4,289.7 66.6,288.3 67.6,287.1 67.8,285.6 69.3,285.1 70.6,284.3 71.8,283.3 73.3,282.8 73.7,281.5 74.1,280.2 74.9,279.0 74.9,277.6 75.4,276.4 75.5,275.0 76.4,273.8 76.6,272.4Z" fill="#f9a493"/>
<path d="M25.4,302.2 26.4,300.9 27.3,299.7 27.5,298.0 27.2,296.6 27.1,295.2 25.9,294.0 26.2,292.5 26.1,291.1 27.4,290.0 27.9,288.6 28.7,287.2 28.9,285.6 30.3,284.9 30.2,283.1 30.9,281.9 31.8,280.8 33.0,280.0 34.0,279.1 35.1,278.3 36.3,277.6 37.0,276.4 37.8,275.3 38.9,274.5 39.5,273.2 40.5,272.3 41.6,271.3 42.0,269.8 43.8,269.5 44.2,268.0 45.9,267.7 46.5,266.2 47.6,265.4 48.1,264.1 48.9,262.9 49.9,262.1 51.3,261.6 52.3,260.7 53.0,259.5 54.0,260.5 55.5,260.5 56.5,261.5 58.0,261.6 59.2,262.2 60.3,263.0 61.6,263.6 63.0,263.5 64.2,264.4 65.7,264.3 67.1,264.4 68.4,265.0 69.8,265.4 71.0,266.2 72.2,267.0 73.5,267.5 74.3,269.0 76.1,269.6 77.0,271.0 76.6,272.4 76.4,273.8 75.5,275.0 75.4,276.4 74.9,277.6 74.9,279.0 74.1,280.2 73.7,281.5 73.3,282.8 71.8,283.3 70.6,284.3 69.3,285.1 67.8,285.6 67.6,287.1 66.6,288.3 66.4,289.7 64.8,289.8 63.6,290.7 62.3,291.5 60.8,291.8 59.8,292.9 59.5,294.3 59.0,295.6 58.0,296.7 59.0,297.9 59.4,299.4 57.9,299.5 56.5,299.9 55.2,300.5 53.9,301.0 52.5,301.3 51.2,302.1 49.7,302.2 48.2,302.1 47.0,303.0 45.5,303.1 44.2,303.6 43.7,304.9 43.5,306.3 43.6,307.8 43.6,309.2 43.2,310.5 43.4,312.0 42.8,313.3 41.5,312.4 39.9,312.1 38.8,310.8 37.2,310.6 36.3,309.5 35.0,308.9 34.0,307.9 32.9,307.1 31.7,306.4 30.6,305.4 29.0,305.0 28.0,303.8 26.5,303.3Z" fill="#f9a493"/>
<path d="M25.4,302.2 26.5,303.3 28.0,303.8 29.0,305.0 30.6,305.4 31.7,306.4 32.9,307.1 34.0,307.9 35.0,308.9 36.3,309.5 37.2,310.6 38.8,310.8 39.9,312.1 41.5,312.4 42.8,313.3 44.3,313.8 45.6,314.5 46.9,315.4 48.3,316.1 49.5,316.9 50.5,317.9 51.6,318.7 52.9,319.3 53.9,320.3 54.7,321.5 55.9,322.2 57.5,322.4 58.1,323.8 59.4,324.4 60.0,326.0 61.0,327.4 62.2,328.6 63.1,329.9 63.0,331.5 63.8,332.8 64.9,334.0 65.0,335.6 65.9,336.8 65.4,338.5 66.1,339.8 66.7,341.1 65.9,339.7 64.8,338.8 62.8,339.0 61.7,338.2 60.8,336.9 59.3,337.4 58.0,336.4 56.7,336.2 55.3,335.8 53.9,335.6 52.5,335.4 51.1,335.6 49.7,336.0 48.3,335.6 46.9,335.3 45.6,334.6 44.1,335.7 42.8,334.9 41.5,334.2 40.2,333.6 38.7,333.6 37.2,333.3 35.8,333.2 34.4,332.8 33.0,332.7 31.6,332.7 30.3,333.2 28.9,332.8 27.6,332.3 27.0,331.0 26.4,329.7 25.4,328.8 24.7,327.7 23.3,327.2 22.4,325.9 21.5,324.6 20.3,323.6 19.3,322.4 17.8,321.7 17.2,320.3 16.4,318.9 16.4,317.2 17.3,315.8 18.9,314.9 19.2,313.3 19.8,312.1 19.8,310.7 21.4,309.9 22.0,308.8 22.6,307.6 22.9,306.3 23.3,305.0 24.3,303.5Z" fill="#f9a493"/>
<path d="M66.4,289.7 66.8,291.1 67.1,292.4 67.3,293.8 67.4,295.2 67.0,296.7 67.6,298.0 68.0,299.4 67.8,300.8 68.4,302.2 69.4,303.3 70.8,304.1 71.2,305.7 72.3,306.7 73.3,307.8 74.3,308.8 75.4,309.6 76.4,310.6 77.6,311.3 78.9,311.9 80.1,313.1 81.9,313.5 83.1,314.7 82.6,316.1 82.5,317.5 82.0,318.9 82.0,320.3 81.7,321.7 80.3,322.2 79.3,323.2 78.2,324.3 77.0,325.1 75.9,325.9 74.5,326.4 73.3,327.2 72.8,328.6 71.7,329.5 71.1,330.8 70.0,331.7 69.2,332.8 69.2,334.2 69.2,335.6 68.8,337.0 69.7,338.3 68.9,339.7 69.2,341.1 66.7,341.1 66.1,339.8 65.4,338.5 65.9,336.8 65.0,335.6 64.9,334.0 63.8,332.8 63.0,331.5 63.1,329.9 62.2,328.6 61.0,327.4 60.0,326.0 59.4,324.4 58.1,323.8 57.5,322.4 55.9,322.2 54.7,321.5 53.9,320.3 52.9,319.3 51.6,318.7 50.5,317.9 49.5,316.9 48.3,316.1 46.9,315.4 45.6,314.5 44.3,313.8 42.8,313.3 43.4,312.0 43.2,310.5 43.6,309.2 43.6,307.8 43.5,306.3 43.7,304.9 44.2,303.6 45.5,303.1 47.0,303.0 48.2,302.1 49.7,302.2 51.2,302.1 52.5,301.3 53.9,301.0 55.2,300.5 56.5,299.9 57.9,299.5 59.4,299.4 59.0,297.9 58.0,296.7 59.0,295.6 59.5,294.3 59.8,292.9 60.8,291.8 62.3,291.5 63.6,290.7 64.8,289.8Z" fill="#f9a493"/>
<path d="M83.1,314.7 84.5,315.2 85.8,315.9 87.2,316.5 88.5,317.3 90.0,317.5 91.7,317.3 93.3,317.2 95.0,317.2 96.4,317.6 97.8,318.1 99.3,318.3 100.6,319.0 102.0,318.8 103.4,319.1 104.7,318.7 106.0,318.6 107.3,318.0 108.7,318.0 110.1,318.2 111.5,318.5 112.8,319.1 114.1,319.5 115.5,319.9 116.9,320.0 115.5,320.2 114.4,321.2 112.9,321.2 112.1,322.7 110.7,322.8 109.1,322.7 107.9,323.3 106.7,324.0 105.4,324.5 103.9,324.5 103.1,326.1 101.3,325.4 100.2,326.3 99.1,327.3 97.9,327.9 96.5,328.1 95.0,328.3 93.7,329.0 92.0,328.3 90.8,329.6 89.3,329.6 88.0,330.5 86.4,330.1 85.5,331.3 84.1,331.6 83.1,332.5 81.7,332.8 80.5,333.9 79.2,334.6 77.4,334.3 75.9,334.6 74.7,335.6 73.6,336.7 72.3,337.6 71.1,338.6 70.8,340.5 69.2,341.1 68.9,339.7 69.7,338.3 68.8,337.0 69.2,335.6 69.2,334.2 69.2,332.8 70.0,331.7 71.1,330.8 71.7,329.5 72.8,328.6 73.3,327.2 74.5,326.4 75.9,325.9 77.0,325.1 78.2,324.3 79.3,323.2 80.3,322.2 81.7,321.7 82.0,320.3 82.0,318.9 82.5,317.5 82.6,316.1Z" fill="#f9a493"/>
<path d="M236.0,386.5 243.5,388.0 251.0,391.0 257.0,394.0 260.8,398.5 264.5,404.5 270.5,409.0 276.5,407.5 284.0,406.0 290.0,407.5 288.5,413.5 281.0,415.8 273.5,415.0 269.0,418.0 263.0,421.0 254.0,424.0 245.0,430.0 237.5,433.0 233.0,430.0 233.8,421.0 230.0,415.0 222.5,410.5 215.0,407.5 219.5,403.0 227.0,398.5 233.0,392.5Z" fill="#e5e3d8"/>
<path d="M170.7,264.2 172.1,258.5 175.0,257.5 176.9,260.4 180.8,257.5 182.2,260.4 181.3,266.2 178.8,269.0 177.9,275.8 176.0,271.0 173.1,266.2Z" fill="#f9a493"/>
<path d="M322,321.5 L315.6,326.7 L311.2,333 L308.6,338.2 L310.5,344.6 L313.7,351 L315.6,358" fill="none" stroke="#ffe8e4" stroke-width="1" stroke-dasharray="1.2,1.5" opacity="0.45"/>
</g>
</svg>
<div class="num" style="left:3.5px">27</div>
<div class="num" style="left:44.5px">40</div>
<div class="num" style="left:84px">50</div>
<div class="num" style="left:124.7px">60</div>
<div class="num" style="left:165.7px">70</div>
<div class="num" style="left:205.2px">80</div>
<div class="num" style="left:245.7px">86</div>
<div class="t" id="nodata">No data</div>
<div class="yr" style="left:15px">2022</div>
<div class="yr" style="left:414px">2024</div>
<div class="t" id="src">Source: Gallup</div>
</body></html>
